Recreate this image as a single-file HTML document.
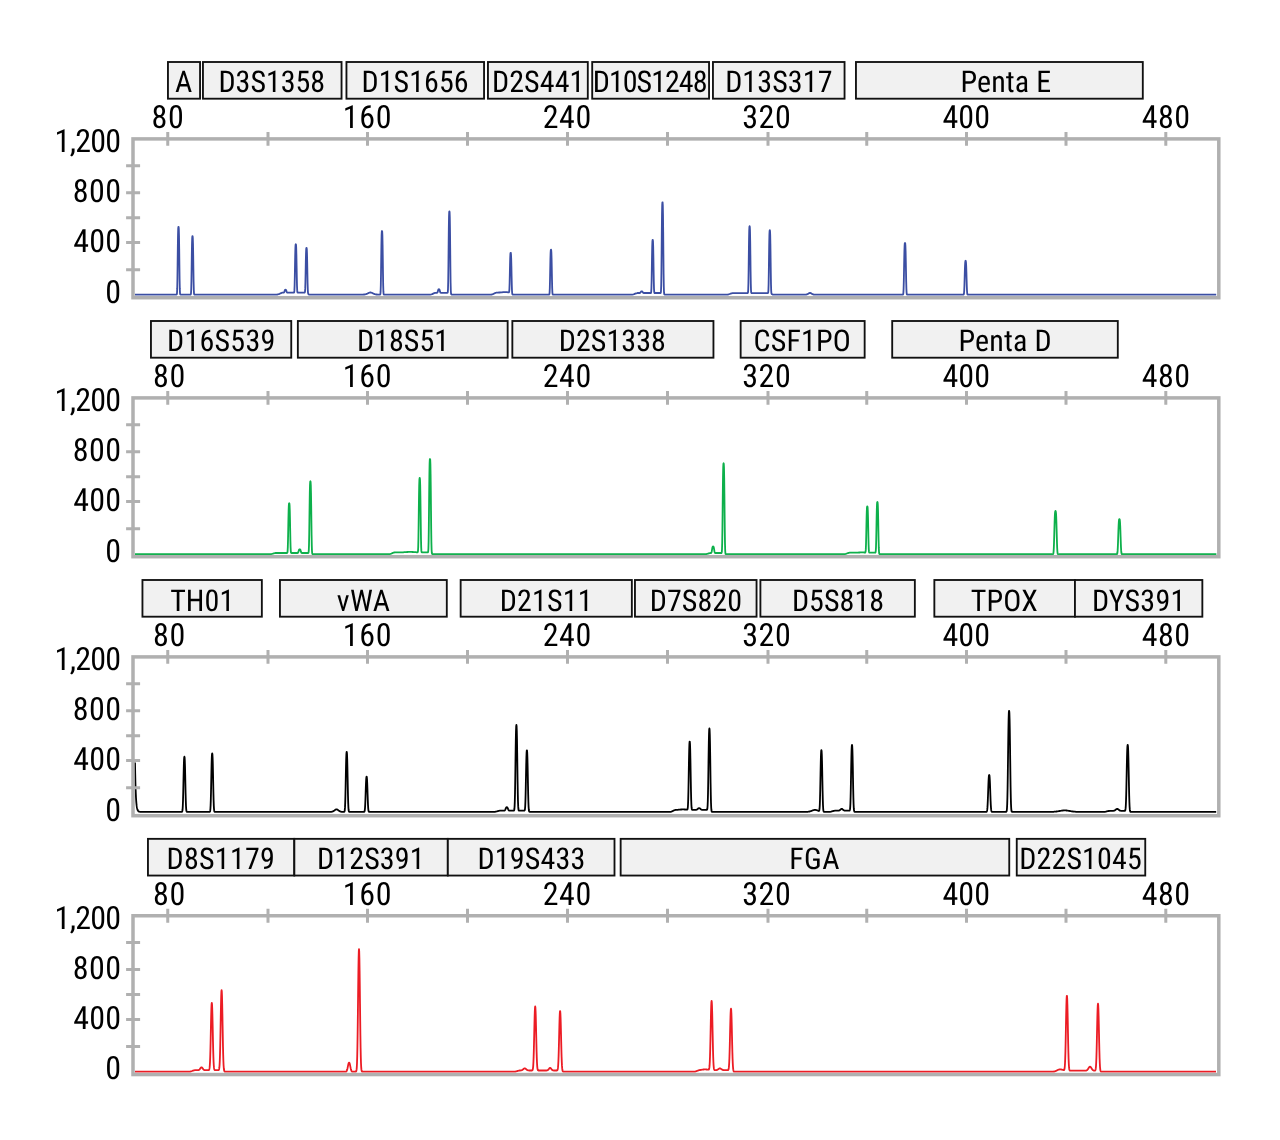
<!DOCTYPE html><html><head><meta charset="utf-8"><title>Electropherogram</title><style>html,body{margin:0;padding:0;background:#fff}svg{display:block;will-change:transform}text{font-family:"Roboto Condensed","Liberation Sans Narrow","Liberation Sans",sans-serif;text-rendering:geometricPrecision}</style></head><body>
<svg width="1280" height="1140" viewBox="0 0 1280 1140">
<rect width="1280" height="1140" fill="#fff"/>
<g><rect x="167.95" y="62.00" width="32.10" height="36.70" fill="#f1f1f1" stroke="#111" stroke-width="1.85"/><rect x="202.95" y="62.00" width="138.60" height="36.70" fill="#f1f1f1" stroke="#111" stroke-width="1.85"/><rect x="346.45" y="62.00" width="137.60" height="36.70" fill="#f1f1f1" stroke="#111" stroke-width="1.85"/><rect x="487.95" y="62.00" width="99.85" height="36.70" fill="#f1f1f1" stroke="#111" stroke-width="1.85"/><rect x="592.20" y="62.00" width="116.85" height="36.70" fill="#f1f1f1" stroke="#111" stroke-width="1.85"/><rect x="712.95" y="62.00" width="131.60" height="36.70" fill="#f1f1f1" stroke="#111" stroke-width="1.85"/><rect x="855.95" y="62.00" width="286.85" height="36.70" fill="#f1f1f1" stroke="#111" stroke-width="1.85"/><text x="183.70" y="91.50" font-size="30" text-anchor="middle" textLength="17.71">A</text><text x="271.80" y="91.50" font-size="30" text-anchor="middle" textLength="106.53">D3S1358</text><text x="415.10" y="91.50" font-size="30" text-anchor="middle" textLength="107.13">D1S1656</text><text x="538.15" y="91.50" font-size="30" text-anchor="middle" textLength="92.42">D2S441</text><text x="650.15" y="91.50" font-size="30" text-anchor="middle" textLength="114.65">D10S1248</text><text x="778.80" y="91.50" font-size="30" text-anchor="middle" textLength="107.33">D13S317</text><text x="1005.80" y="91.50" font-size="30" text-anchor="middle" textLength="90.68">Penta E</text><text x="167.55" y="128.00" font-size="32" text-anchor="middle" textLength="32.29">80</text><text x="367.12" y="128.00" font-size="32" text-anchor="middle" textLength="48.84">160</text><text x="567.00" y="128.00" font-size="32" text-anchor="middle" textLength="48.59">240</text><text x="766.50" y="128.00" font-size="32" text-anchor="middle" textLength="48.59">320</text><text x="966.20" y="128.00" font-size="32" text-anchor="middle" textLength="47.59">400</text><text x="1165.95" y="128.00" font-size="32" text-anchor="middle" textLength="48.29">480</text><text x="87.85" y="151.80" font-size="32" text-anchor="middle" textLength="66.58">1,200</text><text x="96.95" y="202.10" font-size="32" text-anchor="middle" textLength="48.29">800</text><text x="97.15" y="252.20" font-size="32" text-anchor="middle" textLength="47.69">400</text><text x="113.15" y="302.50" font-size="32" text-anchor="middle" textLength="16.10">0</text><path d="M135.0 294.6 L136.0 294.6 L137.0 294.6 L138.0 294.6 L139.0 294.6 L140.0 294.6 L141.0 294.6 L142.0 294.6 L143.0 294.6 L144.0 294.6 L145.0 294.6 L146.0 294.6 L147.0 294.6 L148.0 294.6 L149.0 294.6 L150.0 294.6 L151.0 294.6 L152.0 294.6 L153.0 294.6 L154.0 294.6 L155.0 294.6 L156.0 294.6 L157.0 294.6 L158.0 294.6 L159.0 294.6 L160.0 294.6 L161.0 294.6 L162.0 294.6 L163.0 294.6 L164.0 294.6 L165.0 294.6 L166.0 294.6 L167.0 294.6 L168.0 294.6 L169.0 294.6 L170.0 294.6 L171.0 294.6 L172.0 294.6 L173.0 294.6 L174.0 294.6 L175.0 294.6 L175.2 294.6 L175.4 294.6 L175.6 294.6 L175.8 294.6 L176.0 294.6 L176.2 294.6 L176.4 294.6 L176.6 294.6 L176.8 294.3 L177.0 293.1 L177.2 288.9 L177.4 279.5 L177.6 264.8 L177.8 248.5 L178.0 235.6 L178.2 228.7 L178.4 226.8 L178.6 226.8 L178.8 228.7 L179.0 235.6 L179.2 248.5 L179.4 264.8 L179.6 279.5 L179.8 288.9 L180.0 293.1 L180.2 294.3 L180.4 294.6 L180.6 294.6 L180.8 294.6 L181.0 294.6 L181.2 294.6 L181.4 294.6 L181.6 294.6 L181.8 294.6 L182.0 294.6 L182.2 294.6 L182.4 294.6 L182.6 294.6 L183.6 294.6 L184.6 294.6 L185.6 294.6 L186.6 294.6 L187.6 294.6 L188.6 294.6 L188.8 294.6 L189.0 294.6 L189.2 294.6 L189.4 294.6 L189.6 294.6 L189.8 294.6 L190.0 294.6 L190.2 294.6 L190.4 294.6 L190.6 294.6 L190.8 294.4 L191.0 293.3 L191.2 289.7 L191.4 281.6 L191.6 268.9 L191.8 254.9 L192.0 243.8 L192.2 237.9 L192.4 236.2 L192.6 236.2 L192.8 237.9 L193.0 243.8 L193.2 254.9 L193.4 268.9 L193.6 281.6 L193.8 289.7 L194.0 293.3 L194.2 294.4 L194.4 294.6 L194.6 294.6 L194.8 294.6 L195.0 294.6 L195.2 294.6 L195.4 294.6 L195.6 294.6 L195.8 294.6 L196.0 294.6 L196.2 294.6 L196.4 294.6 L196.6 294.6 L197.6 294.6 L198.6 294.6 L199.6 294.6 L200.6 294.6 L201.6 294.6 L202.6 294.6 L203.6 294.6 L204.6 294.6 L205.6 294.6 L206.6 294.6 L207.6 294.6 L208.6 294.6 L209.6 294.6 L210.6 294.6 L211.6 294.6 L212.6 294.6 L213.6 294.6 L214.6 294.6 L215.6 294.6 L216.6 294.6 L217.6 294.6 L218.6 294.6 L219.6 294.6 L220.6 294.6 L221.6 294.6 L222.6 294.6 L223.6 294.6 L224.6 294.6 L225.6 294.6 L226.6 294.6 L227.6 294.6 L228.6 294.6 L229.6 294.6 L230.6 294.6 L231.6 294.6 L232.6 294.6 L233.6 294.6 L234.6 294.6 L235.6 294.6 L236.6 294.6 L237.6 294.6 L238.6 294.6 L239.6 294.6 L240.6 294.6 L241.6 294.6 L242.6 294.6 L243.6 294.6 L244.6 294.6 L245.6 294.6 L246.6 294.6 L247.6 294.6 L248.6 294.6 L249.6 294.6 L250.6 294.6 L251.6 294.6 L252.6 294.6 L253.6 294.6 L254.6 294.6 L255.6 294.6 L256.6 294.6 L257.6 294.6 L258.6 294.6 L259.6 294.6 L260.6 294.6 L261.6 294.6 L262.6 294.6 L263.6 294.6 L264.6 294.6 L265.6 294.6 L266.6 294.6 L267.6 294.6 L268.6 294.6 L269.6 294.6 L270.6 294.6 L271.6 294.6 L272.6 294.6 L273.6 294.6 L274.6 294.6 L275.6 294.6 L276.6 294.6 L277.6 294.5 L278.6 294.2 L279.6 293.8 L280.6 293.3 L281.6 292.9 L281.8 292.8 L282.0 292.7 L282.2 292.7 L282.4 292.7 L282.6 292.6 L282.8 292.6 L283.0 292.6 L283.2 292.6 L283.4 292.6 L283.6 292.6 L283.8 292.5 L284.0 292.4 L284.2 292.1 L284.4 291.6 L284.6 291.0 L284.8 290.4 L285.0 290.0 L285.2 289.8 L285.4 289.7 L285.6 289.7 L285.8 289.8 L286.0 290.0 L286.2 290.4 L286.4 291.0 L286.6 291.6 L286.8 292.1 L287.0 292.4 L287.2 292.5 L287.4 292.6 L287.6 292.6 L287.8 292.6 L288.0 292.6 L288.2 292.6 L288.4 292.6 L288.6 292.6 L288.8 292.6 L289.0 292.6 L289.2 292.6 L289.4 292.6 L289.6 292.6 L289.8 292.6 L290.0 292.6 L290.2 292.6 L291.2 292.6 L292.2 292.6 L292.4 292.6 L292.6 292.6 L292.8 292.6 L293.0 292.6 L293.2 292.6 L293.4 292.6 L293.6 292.6 L293.8 292.6 L294.0 292.5 L294.2 292.1 L294.4 290.4 L294.6 285.7 L294.8 277.0 L295.0 265.5 L295.2 254.7 L295.4 247.6 L295.6 244.6 L295.8 244.2 L296.0 244.6 L296.2 247.6 L296.4 254.7 L296.6 265.5 L296.8 277.0 L297.0 285.7 L297.2 290.4 L297.4 292.1 L297.6 292.5 L297.8 292.6 L298.0 292.6 L298.2 292.6 L298.4 292.6 L298.6 292.6 L298.8 292.6 L299.0 292.6 L299.2 292.6 L299.4 292.6 L299.6 292.6 L299.8 292.6 L300.0 292.6 L301.0 292.6 L302.0 292.6 L303.0 292.6 L303.2 292.6 L303.4 292.6 L303.6 292.6 L303.8 292.6 L304.0 292.6 L304.2 292.6 L304.4 292.6 L304.6 292.6 L304.8 292.4 L305.0 291.6 L305.2 288.9 L305.4 282.6 L305.6 272.9 L305.8 262.1 L306.0 253.6 L306.2 249.0 L306.4 247.8 L306.6 247.8 L306.8 249.1 L307.0 253.8 L307.2 262.4 L307.4 273.3 L307.6 283.2 L307.8 289.7 L308.0 292.6 L308.2 293.6 L308.4 294.0 L308.6 294.2 L308.8 294.3 L309.0 294.5 L309.2 294.5 L309.4 294.6 L309.6 294.6 L309.8 294.6 L310.0 294.6 L310.2 294.6 L310.4 294.6 L310.6 294.6 L311.6 294.6 L312.6 294.6 L313.6 294.6 L314.6 294.6 L315.6 294.6 L316.6 294.6 L317.6 294.6 L318.6 294.6 L319.6 294.6 L320.6 294.6 L321.6 294.6 L322.6 294.6 L323.6 294.6 L324.6 294.6 L325.6 294.6 L326.6 294.6 L327.6 294.6 L328.6 294.6 L329.6 294.6 L330.6 294.6 L331.6 294.6 L332.6 294.6 L333.6 294.6 L334.6 294.6 L335.6 294.6 L336.6 294.6 L337.6 294.6 L338.6 294.6 L339.6 294.6 L340.6 294.6 L341.6 294.6 L342.6 294.6 L343.6 294.6 L344.6 294.6 L345.6 294.6 L346.6 294.6 L347.6 294.6 L348.6 294.6 L349.6 294.6 L350.6 294.6 L351.6 294.6 L352.6 294.6 L353.6 294.6 L354.6 294.6 L355.6 294.6 L356.6 294.6 L357.6 294.6 L358.6 294.6 L358.8 294.6 L359.0 294.6 L359.2 294.6 L359.4 294.6 L359.6 294.6 L359.8 294.6 L360.0 294.6 L360.2 294.6 L360.4 294.6 L360.6 294.6 L360.8 294.6 L361.0 294.6 L361.2 294.6 L361.4 294.6 L361.6 294.6 L361.8 294.6 L362.0 294.6 L362.2 294.6 L362.4 294.6 L362.6 294.6 L362.8 294.6 L363.0 294.6 L363.2 294.6 L363.4 294.6 L363.6 294.5 L363.8 294.5 L364.0 294.5 L364.2 294.5 L364.4 294.5 L364.6 294.5 L364.8 294.4 L365.0 294.4 L365.2 294.4 L365.4 294.3 L365.6 294.3 L365.8 294.2 L366.0 294.2 L366.2 294.1 L366.4 294.0 L366.6 293.9 L366.8 293.9 L367.0 293.8 L367.2 293.7 L367.4 293.6 L367.6 293.5 L367.8 293.4 L368.0 293.3 L368.2 293.2 L368.4 293.1 L368.6 293.0 L368.8 292.9 L369.0 292.8 L369.2 292.7 L369.4 292.7 L369.6 292.6 L369.8 292.6 L370.0 292.5 L370.2 292.5 L370.4 292.5 L370.6 292.5 L370.8 292.5 L371.0 292.6 L371.2 292.6 L371.4 292.7 L371.6 292.7 L371.8 292.8 L372.0 292.9 L372.2 293.0 L372.4 293.1 L372.6 293.2 L372.8 293.3 L373.0 293.4 L373.2 293.5 L373.4 293.6 L373.6 293.7 L373.8 293.8 L374.0 293.9 L374.2 293.9 L374.4 294.0 L374.6 294.1 L374.8 294.2 L375.0 294.2 L375.2 294.3 L375.4 294.3 L375.6 294.4 L375.8 294.4 L376.0 294.4 L376.2 294.5 L376.4 294.5 L376.6 294.5 L376.8 294.5 L377.0 294.5 L377.2 294.5 L377.4 294.6 L377.6 294.6 L377.8 294.6 L378.0 294.6 L378.2 294.6 L378.4 294.6 L378.6 294.6 L378.8 294.6 L379.0 294.6 L379.2 294.6 L379.4 294.6 L379.6 294.6 L379.8 294.6 L380.0 294.6 L380.2 294.5 L380.4 294.0 L380.6 291.7 L380.8 285.6 L381.0 274.1 L381.2 258.9 L381.4 244.8 L381.6 235.4 L381.8 231.6 L382.0 231.0 L382.2 231.6 L382.4 235.4 L382.6 244.8 L382.8 258.9 L383.0 274.1 L383.2 285.6 L383.4 291.7 L383.6 294.0 L383.8 294.5 L384.0 294.6 L384.2 294.6 L384.4 294.6 L384.6 294.6 L384.8 294.6 L385.0 294.6 L385.2 294.6 L385.4 294.6 L385.6 294.6 L385.8 294.6 L386.0 294.6 L386.2 294.6 L387.2 294.6 L388.2 294.6 L389.2 294.6 L390.2 294.6 L391.2 294.6 L392.2 294.6 L393.2 294.6 L394.2 294.6 L395.2 294.6 L396.2 294.6 L397.2 294.6 L398.2 294.6 L399.2 294.6 L400.2 294.6 L401.2 294.6 L402.2 294.6 L403.2 294.6 L404.2 294.6 L405.2 294.6 L406.2 294.6 L407.2 294.6 L408.2 294.6 L409.2 294.6 L410.2 294.6 L411.2 294.6 L412.2 294.6 L413.2 294.6 L414.2 294.6 L415.2 294.6 L416.2 294.6 L417.2 294.6 L418.2 294.6 L419.2 294.6 L420.2 294.6 L421.2 294.6 L422.2 294.6 L423.2 294.6 L424.2 294.6 L425.2 294.6 L426.2 294.6 L427.2 294.6 L428.2 294.6 L429.2 294.6 L430.2 294.6 L431.2 294.4 L432.2 294.1 L433.2 293.6 L434.2 293.2 L435.2 292.9 L435.4 292.9 L435.6 292.8 L435.8 292.8 L436.0 292.8 L436.2 292.8 L436.4 292.8 L436.6 292.8 L436.8 292.8 L437.0 292.8 L437.2 292.7 L437.4 292.6 L437.6 292.2 L437.8 291.5 L438.0 290.8 L438.2 290.1 L438.4 289.5 L438.6 289.3 L438.8 289.2 L439.0 289.2 L439.2 289.3 L439.4 289.5 L439.6 290.1 L439.8 290.8 L440.0 291.5 L440.2 292.2 L440.4 292.6 L440.6 292.7 L440.8 292.8 L441.0 292.8 L441.2 292.8 L441.4 292.8 L441.6 292.8 L441.8 292.8 L442.0 292.8 L442.2 292.8 L442.4 292.8 L442.6 292.8 L442.8 292.8 L443.0 292.8 L443.2 292.8 L443.4 292.8 L443.6 292.8 L444.6 292.8 L445.6 292.8 L445.8 292.8 L446.0 292.8 L446.2 292.8 L446.4 292.8 L446.6 292.8 L446.8 292.8 L447.0 292.8 L447.2 292.8 L447.4 292.8 L447.6 292.7 L447.8 292.0 L448.0 289.1 L448.2 281.2 L448.4 266.5 L448.6 247.1 L448.8 228.9 L449.0 216.9 L449.2 212.0 L449.4 211.3 L449.6 212.1 L449.8 217.2 L450.0 229.4 L450.2 247.7 L450.4 267.3 L450.6 282.2 L450.8 290.3 L451.0 293.3 L451.2 294.2 L451.4 294.4 L451.6 294.5 L451.8 294.6 L452.0 294.6 L452.2 294.6 L452.4 294.6 L452.6 294.6 L452.8 294.6 L453.0 294.6 L453.2 294.6 L453.4 294.6 L453.6 294.6 L454.6 294.6 L455.6 294.6 L456.6 294.6 L457.6 294.6 L458.6 294.6 L459.6 294.6 L460.6 294.6 L461.6 294.6 L462.6 294.6 L463.6 294.6 L464.6 294.6 L465.6 294.6 L466.6 294.6 L467.6 294.6 L468.6 294.6 L469.6 294.6 L470.6 294.6 L471.6 294.6 L472.6 294.6 L473.6 294.6 L474.6 294.6 L475.6 294.6 L476.6 294.6 L477.6 294.6 L478.6 294.6 L479.6 294.6 L480.6 294.6 L481.6 294.6 L482.6 294.6 L483.6 294.6 L484.6 294.6 L485.6 294.6 L486.6 294.6 L487.6 294.6 L488.6 294.6 L489.6 294.6 L490.6 294.6 L490.8 294.6 L491.0 294.6 L491.2 294.6 L491.4 294.6 L491.6 294.5 L491.8 294.5 L492.0 294.5 L492.2 294.4 L492.4 294.3 L492.6 294.2 L492.8 294.2 L493.0 294.1 L493.2 294.0 L493.4 293.9 L493.6 293.8 L493.8 293.7 L494.0 293.6 L494.2 293.5 L494.4 293.4 L494.6 293.3 L494.8 293.2 L495.0 293.1 L495.2 293.0 L495.4 292.9 L495.6 292.9 L495.8 292.8 L496.0 292.7 L496.2 292.7 L496.4 292.6 L496.6 292.6 L496.8 292.6 L497.0 292.6 L497.2 292.6 L497.4 292.6 L497.6 292.6 L497.8 292.6 L498.0 292.6 L498.2 292.6 L498.4 292.6 L498.6 292.5 L498.8 292.5 L499.0 292.5 L499.2 292.5 L499.4 292.5 L499.6 292.5 L499.8 292.5 L500.0 292.5 L500.2 292.5 L500.4 292.4 L500.6 292.4 L500.8 292.4 L501.0 292.4 L501.2 292.4 L501.4 292.4 L501.6 292.3 L501.8 292.3 L502.0 292.3 L502.2 292.3 L502.4 292.3 L502.6 292.2 L502.8 292.2 L503.0 292.2 L503.2 292.2 L503.4 292.2 L503.6 292.2 L503.8 292.1 L504.0 292.1 L504.2 292.1 L504.4 292.1 L504.6 292.1 L504.8 292.1 L505.0 292.1 L505.2 292.1 L505.4 292.1 L505.6 292.1 L505.8 292.1 L506.0 292.1 L506.2 292.1 L506.4 292.2 L506.6 292.2 L506.8 292.2 L507.0 292.2 L507.2 292.2 L507.4 292.2 L507.6 292.3 L507.8 292.3 L508.0 292.3 L508.2 292.3 L508.4 292.3 L508.6 292.4 L508.8 292.4 L509.0 292.2 L509.2 291.5 L509.4 289.1 L509.6 283.6 L509.8 274.9 L510.0 265.3 L510.2 257.8 L510.4 253.8 L510.6 252.8 L510.8 252.9 L511.0 254.3 L511.2 258.5 L511.4 266.3 L511.6 276.1 L511.8 285.0 L512.0 290.7 L512.2 293.3 L512.4 294.2 L512.6 294.5 L512.8 294.6 L513.0 294.6 L513.2 294.6 L513.4 294.6 L513.6 294.6 L513.8 294.6 L514.0 294.6 L514.2 294.6 L514.4 294.6 L514.6 294.6 L514.8 294.6 L515.0 294.6 L515.2 294.6 L515.4 294.6 L515.6 294.6 L515.8 294.6 L516.0 294.6 L516.2 294.6 L516.4 294.6 L516.6 294.6 L516.8 294.6 L517.0 294.6 L517.2 294.6 L517.4 294.6 L517.6 294.6 L517.8 294.6 L518.0 294.6 L518.2 294.6 L518.4 294.6 L518.6 294.6 L518.8 294.6 L519.0 294.6 L519.2 294.6 L519.4 294.6 L519.6 294.6 L519.8 294.6 L520.0 294.6 L520.2 294.6 L521.2 294.6 L522.2 294.6 L523.2 294.6 L524.2 294.6 L525.2 294.6 L526.2 294.6 L527.2 294.6 L528.2 294.6 L529.2 294.6 L530.2 294.6 L531.2 294.6 L532.2 294.6 L533.2 294.6 L534.2 294.6 L535.2 294.6 L536.2 294.6 L537.2 294.6 L538.2 294.6 L539.2 294.6 L540.2 294.6 L541.2 294.6 L542.2 294.6 L543.2 294.6 L544.2 294.6 L545.2 294.6 L546.2 294.6 L547.2 294.6 L547.4 294.6 L547.6 294.6 L547.8 294.6 L548.0 294.6 L548.2 294.6 L548.4 294.6 L548.6 294.6 L548.8 294.6 L549.0 294.6 L549.2 294.5 L549.4 294.2 L549.6 292.6 L549.8 288.2 L550.0 280.1 L550.2 269.4 L550.4 259.3 L550.6 252.7 L550.8 250.0 L551.0 249.6 L551.2 250.0 L551.4 252.7 L551.6 259.3 L551.8 269.4 L552.0 280.1 L552.2 288.2 L552.4 292.6 L552.6 294.2 L552.8 294.5 L553.0 294.6 L553.2 294.6 L553.4 294.6 L553.6 294.6 L553.8 294.6 L554.0 294.6 L554.2 294.6 L554.4 294.6 L554.6 294.6 L554.8 294.6 L555.0 294.6 L555.2 294.6 L556.2 294.6 L557.2 294.6 L558.2 294.6 L559.2 294.6 L560.2 294.6 L561.2 294.6 L562.2 294.6 L563.2 294.6 L564.2 294.6 L565.2 294.6 L566.2 294.6 L567.2 294.6 L568.2 294.6 L569.2 294.6 L570.2 294.6 L571.2 294.6 L572.2 294.6 L573.2 294.6 L574.2 294.6 L575.2 294.6 L576.2 294.6 L577.2 294.6 L578.2 294.6 L579.2 294.6 L580.2 294.6 L581.2 294.6 L582.2 294.6 L583.2 294.6 L584.2 294.6 L585.2 294.6 L586.2 294.6 L587.2 294.6 L588.2 294.6 L589.2 294.6 L590.2 294.6 L591.2 294.6 L592.2 294.6 L593.2 294.6 L594.2 294.6 L595.2 294.6 L596.2 294.6 L597.2 294.6 L598.2 294.6 L599.2 294.6 L600.2 294.6 L601.2 294.6 L602.2 294.6 L603.2 294.6 L604.2 294.6 L605.2 294.6 L606.2 294.6 L607.2 294.6 L608.2 294.6 L609.2 294.6 L610.2 294.6 L611.2 294.6 L612.2 294.6 L613.2 294.6 L614.2 294.6 L615.2 294.6 L616.2 294.6 L617.2 294.6 L618.2 294.6 L619.2 294.6 L620.2 294.6 L621.2 294.6 L622.2 294.6 L623.2 294.6 L624.2 294.6 L625.2 294.6 L626.2 294.6 L627.2 294.6 L628.2 294.6 L629.2 294.6 L630.2 294.6 L631.2 294.6 L632.2 294.6 L633.2 294.4 L634.2 294.1 L635.2 293.7 L636.2 293.3 L637.2 293.1 L637.4 293.0 L637.6 293.0 L637.8 293.0 L638.0 293.0 L638.2 293.0 L638.4 293.0 L638.6 293.0 L638.8 293.0 L639.0 293.0 L639.2 293.0 L639.4 293.0 L639.6 293.0 L639.8 293.0 L640.0 292.9 L640.2 292.8 L640.4 292.6 L640.6 292.3 L640.8 292.0 L641.0 291.7 L641.2 291.5 L641.4 291.4 L641.6 291.4 L641.8 291.4 L642.0 291.4 L642.2 291.5 L642.4 291.7 L642.6 292.0 L642.8 292.3 L643.0 292.6 L643.2 292.8 L643.4 292.9 L643.6 293.0 L643.8 293.0 L644.0 293.0 L644.2 293.0 L644.4 293.0 L644.6 293.0 L644.8 293.0 L645.0 293.0 L645.2 293.0 L645.4 293.0 L645.6 293.0 L645.8 293.0 L646.0 293.0 L646.2 293.0 L646.4 293.0 L646.6 293.0 L646.8 293.0 L647.8 293.0 L648.8 293.0 L649.0 293.0 L649.2 293.0 L649.4 293.0 L649.6 293.0 L649.8 293.0 L650.0 293.0 L650.2 293.0 L650.4 293.0 L650.6 293.0 L650.8 293.0 L651.0 292.8 L651.2 291.8 L651.4 288.6 L651.6 281.2 L651.8 269.7 L652.0 256.9 L652.2 246.8 L652.4 241.4 L652.6 239.9 L652.8 239.9 L653.0 241.4 L653.2 246.8 L653.4 256.9 L653.6 269.7 L653.8 281.2 L654.0 288.6 L654.2 291.8 L654.4 292.8 L654.6 293.0 L654.8 293.0 L655.0 293.0 L655.2 293.0 L655.4 293.0 L655.6 293.0 L655.8 293.0 L656.0 293.0 L656.2 293.0 L656.4 293.0 L656.6 293.0 L656.8 293.0 L657.8 293.0 L658.8 293.0 L659.0 293.0 L659.2 293.0 L659.4 293.0 L659.6 293.0 L659.8 293.0 L660.0 293.0 L660.2 293.0 L660.4 293.0 L660.6 293.0 L660.8 292.6 L661.0 291.0 L661.2 285.4 L661.4 272.8 L661.6 253.1 L661.8 231.3 L662.0 214.1 L662.2 204.8 L662.4 202.3 L662.6 202.4 L662.8 205.1 L663.0 214.5 L663.2 231.9 L663.4 253.8 L663.6 273.7 L663.8 286.4 L664.0 292.2 L664.2 294.0 L664.4 294.4 L664.6 294.5 L664.8 294.6 L665.0 294.6 L665.2 294.6 L665.4 294.6 L665.6 294.6 L665.8 294.6 L666.0 294.6 L666.2 294.6 L666.4 294.6 L666.6 294.6 L667.6 294.6 L668.6 294.6 L669.6 294.6 L670.6 294.6 L671.6 294.6 L672.6 294.6 L673.6 294.6 L674.6 294.6 L675.6 294.6 L676.6 294.6 L677.6 294.6 L678.6 294.6 L679.6 294.6 L680.6 294.6 L681.6 294.6 L682.6 294.6 L683.6 294.6 L684.6 294.6 L685.6 294.6 L686.6 294.6 L687.6 294.6 L688.6 294.6 L689.6 294.6 L690.6 294.6 L691.6 294.6 L692.6 294.6 L693.6 294.6 L694.6 294.6 L695.6 294.6 L696.6 294.6 L697.6 294.6 L698.6 294.6 L699.6 294.6 L700.6 294.6 L701.6 294.6 L702.6 294.6 L703.6 294.6 L704.6 294.6 L705.6 294.6 L706.6 294.6 L707.6 294.6 L708.6 294.6 L709.6 294.6 L710.6 294.6 L711.6 294.6 L712.6 294.6 L713.6 294.6 L714.6 294.6 L715.6 294.6 L716.6 294.6 L717.6 294.6 L718.6 294.6 L719.6 294.6 L720.6 294.6 L721.6 294.6 L722.6 294.6 L723.6 294.6 L724.6 294.6 L725.6 294.6 L726.6 294.6 L727.6 294.6 L728.6 294.3 L729.6 294.0 L730.6 293.6 L731.6 293.3 L732.6 293.1 L733.6 293.1 L734.6 293.1 L735.6 293.1 L736.6 293.1 L737.6 293.1 L738.6 293.1 L739.6 293.1 L740.6 293.1 L741.6 293.1 L742.6 293.1 L743.6 293.1 L744.6 293.1 L745.6 293.1 L745.8 293.1 L746.0 293.1 L746.2 293.1 L746.4 293.1 L746.6 293.1 L746.8 293.1 L747.0 293.1 L747.2 293.1 L747.4 293.1 L747.6 293.1 L747.8 293.0 L748.0 292.4 L748.2 290.1 L748.4 283.6 L748.6 271.5 L748.8 255.6 L749.0 240.7 L749.2 230.9 L749.4 226.8 L749.6 226.2 L749.8 226.8 L750.0 230.9 L750.2 240.7 L750.4 255.6 L750.6 271.5 L750.8 283.6 L751.0 290.1 L751.2 292.4 L751.4 293.0 L751.6 293.1 L751.8 293.1 L752.0 293.1 L752.2 293.1 L752.4 293.1 L752.6 293.1 L752.8 293.1 L753.0 293.1 L753.2 293.1 L753.4 293.1 L753.6 293.1 L754.6 293.1 L755.6 293.1 L756.6 293.1 L757.6 293.1 L758.6 293.1 L759.6 293.1 L760.6 293.1 L761.6 293.1 L762.6 293.1 L763.6 293.1 L764.6 293.1 L765.6 293.1 L766.6 293.1 L766.8 293.1 L767.0 293.1 L767.2 293.1 L767.4 293.1 L767.6 293.1 L767.8 293.1 L768.0 293.0 L768.2 292.5 L768.4 290.3 L768.6 284.2 L768.8 272.8 L769.0 257.8 L769.2 243.8 L769.4 234.6 L769.6 230.8 L769.8 230.2 L770.0 230.8 L770.2 234.6 L770.4 243.9 L770.6 258.0 L770.8 273.1 L771.0 284.6 L771.2 290.8 L771.4 293.2 L771.6 293.8 L771.8 294.1 L772.0 294.2 L772.2 294.3 L772.4 294.4 L772.6 294.5 L772.8 294.6 L773.0 294.6 L773.2 294.6 L773.4 294.6 L773.6 294.6 L773.8 294.6 L774.8 294.6 L775.8 294.6 L776.8 294.6 L777.8 294.6 L778.8 294.6 L779.8 294.6 L780.8 294.6 L781.8 294.6 L782.8 294.6 L783.8 294.6 L784.8 294.6 L785.8 294.6 L786.8 294.6 L787.8 294.6 L788.8 294.6 L789.8 294.6 L790.8 294.6 L791.8 294.6 L792.8 294.6 L793.8 294.6 L794.8 294.6 L795.8 294.6 L796.8 294.6 L797.8 294.6 L798.8 294.6 L799.8 294.6 L800.8 294.6 L801.8 294.6 L802.8 294.6 L803.0 294.6 L803.2 294.6 L803.4 294.6 L803.6 294.6 L803.8 294.6 L804.0 294.6 L804.2 294.6 L804.4 294.6 L804.6 294.6 L804.8 294.6 L805.0 294.6 L805.2 294.6 L805.4 294.6 L805.6 294.6 L805.8 294.6 L806.0 294.6 L806.2 294.5 L806.4 294.5 L806.6 294.5 L806.8 294.4 L807.0 294.4 L807.2 294.3 L807.4 294.2 L807.6 294.1 L807.8 294.0 L808.0 293.9 L808.2 293.8 L808.4 293.6 L808.6 293.5 L808.8 293.4 L809.0 293.2 L809.2 293.1 L809.4 293.0 L809.6 293.0 L809.8 292.9 L810.0 292.9 L810.2 292.9 L810.4 293.0 L810.6 293.0 L810.8 293.1 L811.0 293.2 L811.2 293.4 L811.4 293.5 L811.6 293.6 L811.8 293.8 L812.0 293.9 L812.2 294.0 L812.4 294.1 L812.6 294.2 L812.8 294.3 L813.0 294.4 L813.2 294.4 L813.4 294.5 L813.6 294.5 L813.8 294.5 L814.0 294.6 L814.2 294.6 L814.4 294.6 L814.6 294.6 L814.8 294.6 L815.0 294.6 L815.2 294.6 L815.4 294.6 L815.6 294.6 L815.8 294.6 L816.0 294.6 L816.2 294.6 L816.4 294.6 L816.6 294.6 L816.8 294.6 L817.0 294.6 L817.2 294.6 L817.4 294.6 L817.6 294.6 L818.6 294.6 L819.6 294.6 L820.6 294.6 L821.6 294.6 L822.6 294.6 L823.6 294.6 L824.6 294.6 L825.6 294.6 L826.6 294.6 L827.6 294.6 L828.6 294.6 L829.6 294.6 L830.6 294.6 L831.6 294.6 L832.6 294.6 L833.6 294.6 L834.6 294.6 L835.6 294.6 L836.6 294.6 L837.6 294.6 L838.6 294.6 L839.6 294.6 L840.6 294.6 L841.6 294.6 L842.6 294.6 L843.6 294.6 L844.6 294.6 L845.6 294.6 L846.6 294.6 L847.6 294.6 L848.6 294.6 L849.6 294.6 L850.6 294.6 L851.6 294.6 L852.6 294.6 L853.6 294.6 L854.6 294.6 L855.6 294.6 L856.6 294.6 L857.6 294.6 L858.6 294.6 L859.6 294.6 L860.6 294.6 L861.6 294.6 L862.6 294.6 L863.6 294.6 L864.6 294.6 L865.6 294.6 L866.6 294.6 L867.6 294.6 L868.6 294.6 L869.6 294.6 L870.6 294.6 L871.6 294.6 L872.6 294.6 L873.6 294.6 L874.6 294.6 L875.6 294.6 L876.6 294.6 L877.6 294.6 L878.6 294.6 L879.6 294.6 L880.6 294.6 L881.6 294.6 L882.6 294.6 L883.6 294.6 L884.6 294.6 L885.6 294.6 L886.6 294.6 L887.6 294.6 L888.6 294.6 L889.6 294.6 L890.6 294.6 L891.6 294.6 L892.6 294.6 L893.6 294.6 L894.6 294.6 L895.6 294.6 L896.6 294.6 L897.6 294.6 L898.6 294.6 L899.6 294.6 L900.6 294.6 L900.8 294.6 L901.0 294.6 L901.2 294.6 L901.4 294.6 L901.6 294.6 L901.8 294.6 L902.0 294.6 L902.2 294.6 L902.4 294.6 L902.6 294.6 L902.8 294.6 L903.0 294.5 L903.2 294.1 L903.4 292.6 L903.6 288.7 L903.8 281.5 L904.0 271.2 L904.2 260.2 L904.4 251.0 L904.6 245.5 L904.8 243.2 L905.0 242.9 L905.2 243.2 L905.4 245.5 L905.6 251.0 L905.8 260.2 L906.0 271.2 L906.2 281.5 L906.4 288.7 L906.6 292.6 L906.8 294.1 L907.0 294.5 L907.2 294.6 L907.4 294.6 L907.6 294.6 L907.8 294.6 L908.0 294.6 L908.2 294.6 L908.4 294.6 L908.6 294.6 L908.8 294.6 L909.0 294.6 L909.2 294.6 L909.4 294.6 L909.6 294.6 L910.6 294.6 L911.6 294.6 L912.6 294.6 L913.6 294.6 L914.6 294.6 L915.6 294.6 L916.6 294.6 L917.6 294.6 L918.6 294.6 L919.6 294.6 L920.6 294.6 L921.6 294.6 L922.6 294.6 L923.6 294.6 L924.6 294.6 L925.6 294.6 L926.6 294.6 L927.6 294.6 L928.6 294.6 L929.6 294.6 L930.6 294.6 L931.6 294.6 L932.6 294.6 L933.6 294.6 L934.6 294.6 L935.6 294.6 L936.6 294.6 L937.6 294.6 L938.6 294.6 L939.6 294.6 L940.6 294.6 L941.6 294.6 L942.6 294.6 L943.6 294.6 L944.6 294.6 L945.6 294.6 L946.6 294.6 L947.6 294.6 L948.6 294.6 L949.6 294.6 L950.6 294.6 L951.6 294.6 L952.6 294.6 L953.6 294.6 L954.6 294.6 L955.6 294.6 L956.6 294.6 L957.6 294.6 L958.6 294.6 L959.6 294.6 L960.6 294.6 L961.6 294.6 L961.8 294.6 L962.0 294.6 L962.2 294.6 L962.4 294.6 L962.6 294.6 L962.8 294.6 L963.0 294.6 L963.2 294.6 L963.4 294.6 L963.6 294.5 L963.8 294.3 L964.0 293.3 L964.2 290.8 L964.4 286.0 L964.6 279.3 L964.8 272.1 L965.0 266.1 L965.2 262.5 L965.4 261.0 L965.6 260.8 L965.8 261.0 L966.0 262.5 L966.2 266.1 L966.4 272.1 L966.6 279.3 L966.8 286.0 L967.0 290.8 L967.2 293.3 L967.4 294.3 L967.6 294.5 L967.8 294.6 L968.0 294.6 L968.2 294.6 L968.4 294.6 L968.6 294.6 L968.8 294.6 L969.0 294.6 L969.2 294.6 L969.4 294.6 L969.6 294.6 L969.8 294.6 L970.0 294.6 L970.2 294.6 L971.2 294.6 L972.2 294.6 L973.2 294.6 L974.2 294.6 L975.2 294.6 L976.2 294.6 L977.2 294.6 L978.2 294.6 L979.2 294.6 L980.2 294.6 L981.2 294.6 L982.2 294.6 L983.2 294.6 L984.2 294.6 L985.2 294.6 L986.2 294.6 L987.2 294.6 L988.2 294.6 L989.2 294.6 L990.2 294.6 L991.2 294.6 L992.2 294.6 L993.2 294.6 L994.2 294.6 L995.2 294.6 L996.2 294.6 L997.2 294.6 L998.2 294.6 L999.2 294.6 L1000.2 294.6 L1001.2 294.6 L1002.2 294.6 L1003.2 294.6 L1004.2 294.6 L1005.2 294.6 L1006.2 294.6 L1007.2 294.6 L1008.2 294.6 L1009.2 294.6 L1010.2 294.6 L1011.2 294.6 L1012.2 294.6 L1013.2 294.6 L1014.2 294.6 L1015.2 294.6 L1016.2 294.6 L1017.2 294.6 L1018.2 294.6 L1019.2 294.6 L1020.2 294.6 L1021.2 294.6 L1022.2 294.6 L1023.2 294.6 L1024.2 294.6 L1025.2 294.6 L1026.2 294.6 L1027.2 294.6 L1028.2 294.6 L1029.2 294.6 L1030.2 294.6 L1031.2 294.6 L1032.2 294.6 L1033.2 294.6 L1034.2 294.6 L1035.2 294.6 L1036.2 294.6 L1037.2 294.6 L1038.2 294.6 L1039.2 294.6 L1040.2 294.6 L1041.2 294.6 L1042.2 294.6 L1043.2 294.6 L1044.2 294.6 L1045.2 294.6 L1046.2 294.6 L1047.2 294.6 L1048.2 294.6 L1049.2 294.6 L1050.2 294.6 L1051.2 294.6 L1052.2 294.6 L1053.2 294.6 L1054.2 294.6 L1055.2 294.6 L1056.2 294.6 L1057.2 294.6 L1058.2 294.6 L1059.2 294.6 L1060.2 294.6 L1061.2 294.6 L1062.2 294.6 L1063.2 294.6 L1064.2 294.6 L1065.2 294.6 L1066.2 294.6 L1067.2 294.6 L1068.2 294.6 L1069.2 294.6 L1070.2 294.6 L1071.2 294.6 L1072.2 294.6 L1073.2 294.6 L1074.2 294.6 L1075.2 294.6 L1076.2 294.6 L1077.2 294.6 L1078.2 294.6 L1079.2 294.6 L1080.2 294.6 L1081.2 294.6 L1082.2 294.6 L1083.2 294.6 L1084.2 294.6 L1085.2 294.6 L1086.2 294.6 L1087.2 294.6 L1088.2 294.6 L1089.2 294.6 L1090.2 294.6 L1091.2 294.6 L1092.2 294.6 L1093.2 294.6 L1094.2 294.6 L1095.2 294.6 L1096.2 294.6 L1097.2 294.6 L1098.2 294.6 L1099.2 294.6 L1100.2 294.6 L1101.2 294.6 L1102.2 294.6 L1103.2 294.6 L1104.2 294.6 L1105.2 294.6 L1106.2 294.6 L1107.2 294.6 L1108.2 294.6 L1109.2 294.6 L1110.2 294.6 L1111.2 294.6 L1112.2 294.6 L1113.2 294.6 L1114.2 294.6 L1115.2 294.6 L1116.2 294.6 L1117.2 294.6 L1118.2 294.6 L1119.2 294.6 L1120.2 294.6 L1121.2 294.6 L1122.2 294.6 L1123.2 294.6 L1124.2 294.6 L1125.2 294.6 L1126.2 294.6 L1127.2 294.6 L1128.2 294.6 L1129.2 294.6 L1130.2 294.6 L1131.2 294.6 L1132.2 294.6 L1133.2 294.6 L1134.2 294.6 L1135.2 294.6 L1136.2 294.6 L1137.2 294.6 L1138.2 294.6 L1139.2 294.6 L1140.2 294.6 L1141.2 294.6 L1142.2 294.6 L1143.2 294.6 L1144.2 294.6 L1145.2 294.6 L1146.2 294.6 L1147.2 294.6 L1148.2 294.6 L1149.2 294.6 L1150.2 294.6 L1151.2 294.6 L1152.2 294.6 L1153.2 294.6 L1154.2 294.6 L1155.2 294.6 L1156.2 294.6 L1157.2 294.6 L1158.2 294.6 L1159.2 294.6 L1160.2 294.6 L1161.2 294.6 L1162.2 294.6 L1163.2 294.6 L1164.2 294.6 L1165.2 294.6 L1166.2 294.6 L1167.2 294.6 L1168.2 294.6 L1169.2 294.6 L1170.2 294.6 L1171.2 294.6 L1172.2 294.6 L1173.2 294.6 L1174.2 294.6 L1175.2 294.6 L1176.2 294.6 L1177.2 294.6 L1178.2 294.6 L1179.2 294.6 L1180.2 294.6 L1181.2 294.6 L1182.2 294.6 L1183.2 294.6 L1184.2 294.6 L1185.2 294.6 L1186.2 294.6 L1187.2 294.6 L1188.2 294.6 L1189.2 294.6 L1190.2 294.6 L1191.2 294.6 L1192.2 294.6 L1193.2 294.6 L1194.2 294.6 L1195.2 294.6 L1196.2 294.6 L1197.2 294.6 L1198.2 294.6 L1199.2 294.6 L1200.2 294.6 L1201.2 294.6 L1202.2 294.6 L1203.2 294.6 L1204.2 294.6 L1205.2 294.6 L1206.2 294.6 L1207.2 294.6 L1208.2 294.6 L1209.2 294.6 L1210.2 294.6 L1211.2 294.6 L1212.2 294.6 L1213.2 294.6 L1214.2 294.6 L1215.2 294.6 L1216.2 294.6" stroke="#3b4ea3" stroke-width="1.8" fill="none" stroke-linejoin="round"/><rect x="133.00" y="138.90" width="1085.80" height="158.80" fill="none" stroke="#b0b0b0" stroke-width="3.5"/><path d="M167.75 132.00V145.80M268.00 132.00V145.80M367.50 132.00V145.80M467.50 132.00V145.80M567.50 132.00V145.80M667.50 132.00V145.80M768.00 132.00V145.80M866.75 132.00V145.80M966.50 132.00V145.80M1066.00 132.00V145.80M1165.80 132.00V145.80M126.1 165.66H140.1M126.1 192.70H140.1M126.1 217.70H140.1M126.1 242.60H140.1M126.1 269.70H140.1" stroke="#b0b0b0" stroke-width="3" fill="none"/></g>
<g><rect x="150.95" y="321.00" width="140.30" height="36.70" fill="#f1f1f1" stroke="#111" stroke-width="1.85"/><rect x="297.85" y="321.00" width="209.80" height="36.70" fill="#f1f1f1" stroke="#111" stroke-width="1.85"/><rect x="512.35" y="321.00" width="201.10" height="36.70" fill="#f1f1f1" stroke="#111" stroke-width="1.85"/><rect x="740.65" y="321.00" width="124.00" height="36.70" fill="#f1f1f1" stroke="#111" stroke-width="1.85"/><rect x="892.20" y="321.00" width="225.60" height="36.70" fill="#f1f1f1" stroke="#111" stroke-width="1.85"/><text x="221.15" y="350.60" font-size="30" text-anchor="middle" textLength="108.23">D16S539</text><text x="403.05" y="350.60" font-size="30" text-anchor="middle" textLength="92.22">D18S51</text><text x="612.30" y="350.60" font-size="30" text-anchor="middle" textLength="107.13">D2S1338</text><text x="802.15" y="350.60" font-size="30" text-anchor="middle" textLength="97.17">CSF1PO</text><text x="1005.10" y="350.60" font-size="30" text-anchor="middle" textLength="93.10">Penta D</text><text x="169.15" y="387.00" font-size="32" text-anchor="middle" textLength="32.29">80</text><text x="367.12" y="387.00" font-size="32" text-anchor="middle" textLength="48.84">160</text><text x="567.00" y="387.00" font-size="32" text-anchor="middle" textLength="48.59">240</text><text x="766.50" y="387.00" font-size="32" text-anchor="middle" textLength="48.59">320</text><text x="966.20" y="387.00" font-size="32" text-anchor="middle" textLength="47.59">400</text><text x="1165.95" y="387.00" font-size="32" text-anchor="middle" textLength="48.29">480</text><text x="87.85" y="410.80" font-size="32" text-anchor="middle" textLength="66.58">1,200</text><text x="96.95" y="461.10" font-size="32" text-anchor="middle" textLength="48.29">800</text><text x="97.15" y="511.20" font-size="32" text-anchor="middle" textLength="47.69">400</text><text x="113.15" y="561.50" font-size="32" text-anchor="middle" textLength="16.10">0</text><path d="M135.0 554.2 L136.0 554.2 L137.0 554.2 L138.0 554.2 L139.0 554.2 L140.0 554.2 L141.0 554.2 L142.0 554.2 L143.0 554.2 L144.0 554.2 L145.0 554.2 L146.0 554.2 L147.0 554.2 L148.0 554.2 L149.0 554.2 L150.0 554.2 L151.0 554.2 L152.0 554.2 L153.0 554.2 L154.0 554.2 L155.0 554.2 L156.0 554.2 L157.0 554.2 L158.0 554.2 L159.0 554.2 L160.0 554.2 L161.0 554.2 L162.0 554.2 L163.0 554.2 L164.0 554.2 L165.0 554.2 L166.0 554.2 L167.0 554.2 L168.0 554.2 L169.0 554.2 L170.0 554.2 L171.0 554.2 L172.0 554.2 L173.0 554.2 L174.0 554.2 L175.0 554.2 L176.0 554.2 L177.0 554.2 L178.0 554.2 L179.0 554.2 L180.0 554.2 L181.0 554.2 L182.0 554.2 L183.0 554.2 L184.0 554.2 L185.0 554.2 L186.0 554.2 L187.0 554.2 L188.0 554.2 L189.0 554.2 L190.0 554.2 L191.0 554.2 L192.0 554.2 L193.0 554.2 L194.0 554.2 L195.0 554.2 L196.0 554.2 L197.0 554.2 L198.0 554.2 L199.0 554.2 L200.0 554.2 L201.0 554.2 L202.0 554.2 L203.0 554.2 L204.0 554.2 L205.0 554.2 L206.0 554.2 L207.0 554.2 L208.0 554.2 L209.0 554.2 L210.0 554.2 L211.0 554.2 L212.0 554.2 L213.0 554.2 L214.0 554.2 L215.0 554.2 L216.0 554.2 L217.0 554.2 L218.0 554.2 L219.0 554.2 L220.0 554.2 L221.0 554.2 L222.0 554.2 L223.0 554.2 L224.0 554.2 L225.0 554.2 L226.0 554.2 L227.0 554.2 L228.0 554.2 L229.0 554.2 L230.0 554.2 L231.0 554.2 L232.0 554.2 L233.0 554.2 L234.0 554.2 L235.0 554.2 L236.0 554.2 L237.0 554.2 L238.0 554.2 L239.0 554.2 L240.0 554.2 L241.0 554.2 L242.0 554.2 L243.0 554.2 L244.0 554.2 L245.0 554.2 L246.0 554.2 L247.0 554.2 L248.0 554.2 L249.0 554.2 L250.0 554.2 L251.0 554.2 L252.0 554.2 L253.0 554.2 L254.0 554.2 L255.0 554.2 L256.0 554.2 L257.0 554.2 L258.0 554.2 L259.0 554.2 L260.0 554.2 L261.0 554.2 L262.0 554.2 L263.0 554.2 L264.0 554.2 L265.0 554.2 L266.0 554.2 L267.0 554.2 L268.0 554.2 L269.0 554.2 L270.0 554.2 L271.0 554.1 L272.0 553.9 L272.2 553.8 L272.4 553.8 L272.6 553.7 L272.8 553.7 L273.0 553.6 L273.2 553.5 L273.4 553.5 L273.6 553.4 L273.8 553.4 L274.0 553.3 L274.2 553.3 L274.4 553.2 L274.6 553.2 L274.8 553.1 L275.0 553.1 L275.2 553.1 L275.4 553.0 L275.6 553.0 L275.8 553.0 L276.0 553.0 L276.2 553.0 L276.4 553.0 L276.6 553.0 L276.8 553.0 L277.0 553.0 L277.2 553.0 L277.4 553.0 L277.6 553.0 L277.8 553.0 L278.0 553.0 L278.2 553.0 L278.4 553.0 L278.6 553.0 L278.8 553.0 L279.0 553.0 L279.2 553.0 L279.4 553.0 L279.6 553.0 L279.8 553.0 L280.0 553.0 L280.2 553.0 L280.4 553.0 L280.6 553.0 L280.8 553.0 L281.0 553.0 L281.2 553.0 L281.4 553.0 L281.6 553.0 L281.8 553.0 L282.0 553.0 L282.2 553.0 L282.4 553.0 L282.6 553.0 L282.8 553.0 L283.0 553.0 L283.2 553.0 L283.4 553.0 L283.6 553.0 L283.8 553.0 L284.0 553.0 L285.0 553.0 L286.0 553.0 L286.2 553.0 L286.4 553.0 L286.6 553.0 L286.8 553.0 L287.0 553.0 L287.2 552.9 L287.4 552.5 L287.6 551.1 L287.8 547.4 L288.0 540.4 L288.2 530.5 L288.4 519.8 L288.6 511.0 L288.8 505.7 L289.0 503.5 L289.2 503.2 L289.4 503.5 L289.6 505.7 L289.8 511.0 L290.0 519.8 L290.2 530.5 L290.4 540.4 L290.6 547.4 L290.8 551.1 L291.0 552.5 L291.2 552.9 L291.4 553.0 L291.6 553.0 L291.8 553.0 L292.0 553.0 L292.2 553.0 L292.4 553.0 L292.6 553.0 L292.8 553.0 L293.0 553.0 L293.2 553.0 L293.4 553.0 L294.4 553.0 L295.4 553.0 L295.6 553.0 L295.8 553.0 L296.0 553.0 L296.2 553.0 L296.4 553.0 L296.6 553.0 L296.8 553.0 L297.0 553.0 L297.2 553.0 L297.4 553.0 L297.6 553.0 L297.8 552.9 L298.0 552.8 L298.2 552.4 L298.4 551.9 L298.6 551.2 L298.8 550.5 L299.0 549.9 L299.2 549.5 L299.4 549.4 L299.6 549.3 L299.8 549.3 L300.0 549.4 L300.2 549.5 L300.4 549.9 L300.6 550.5 L300.8 551.2 L301.0 551.9 L301.2 552.4 L301.4 552.8 L301.6 552.9 L301.8 553.0 L302.0 553.0 L302.2 553.0 L302.4 553.0 L302.6 553.0 L302.8 553.0 L303.0 553.0 L303.2 553.0 L303.4 553.0 L303.6 553.0 L303.8 553.0 L304.0 553.0 L304.2 553.0 L304.4 553.0 L305.4 553.0 L306.4 553.0 L307.4 553.0 L307.6 553.0 L307.8 553.0 L308.0 553.0 L308.2 553.0 L308.4 552.9 L308.6 552.3 L308.8 550.2 L309.0 544.9 L309.2 534.8 L309.4 520.6 L309.6 505.2 L309.8 492.5 L310.0 484.8 L310.2 481.7 L310.4 481.3 L310.6 481.8 L310.8 485.0 L311.0 492.9 L311.2 505.6 L311.4 521.1 L311.6 535.5 L311.8 545.7 L312.0 551.1 L312.2 553.3 L312.4 553.9 L312.6 554.1 L312.8 554.2 L313.0 554.2 L313.2 554.2 L313.4 554.2 L313.6 554.2 L313.8 554.2 L314.0 554.2 L314.2 554.2 L314.4 554.2 L314.6 554.2 L315.6 554.2 L316.6 554.2 L317.6 554.2 L318.6 554.2 L319.6 554.2 L320.6 554.2 L321.6 554.2 L322.6 554.2 L323.6 554.2 L324.6 554.2 L325.6 554.2 L326.6 554.2 L327.6 554.2 L328.6 554.2 L329.6 554.2 L330.6 554.2 L331.6 554.2 L332.6 554.2 L333.6 554.2 L334.6 554.2 L335.6 554.2 L336.6 554.2 L337.6 554.2 L338.6 554.2 L339.6 554.2 L340.6 554.2 L341.6 554.2 L342.6 554.2 L343.6 554.2 L344.6 554.2 L345.6 554.2 L346.6 554.2 L347.6 554.2 L348.6 554.2 L349.6 554.2 L350.6 554.2 L351.6 554.2 L352.6 554.2 L353.6 554.2 L354.6 554.2 L355.6 554.2 L356.6 554.2 L357.6 554.2 L358.6 554.2 L359.6 554.2 L360.6 554.2 L361.6 554.2 L362.6 554.2 L363.6 554.2 L364.6 554.2 L365.6 554.2 L366.6 554.2 L367.6 554.2 L368.6 554.2 L369.6 554.2 L370.6 554.2 L371.6 554.2 L372.6 554.2 L373.6 554.2 L374.6 554.2 L375.6 554.2 L376.6 554.2 L377.6 554.2 L378.6 554.2 L379.6 554.2 L380.6 554.2 L381.6 554.2 L382.6 554.2 L383.6 554.2 L384.6 554.2 L385.6 554.2 L386.6 554.2 L387.6 554.2 L388.6 554.2 L389.6 554.1 L390.6 553.9 L390.8 553.8 L391.0 553.7 L391.2 553.7 L391.4 553.6 L391.6 553.5 L391.8 553.4 L392.0 553.3 L392.2 553.2 L392.4 553.1 L392.6 553.0 L392.8 552.9 L393.0 552.9 L393.2 552.8 L393.4 552.7 L393.6 552.6 L393.8 552.6 L394.0 552.5 L394.2 552.5 L394.4 552.5 L394.6 552.4 L394.8 552.4 L395.0 552.4 L395.2 552.4 L395.4 552.4 L395.6 552.4 L395.8 552.4 L396.0 552.4 L396.2 552.4 L396.4 552.4 L396.6 552.4 L396.8 552.4 L397.0 552.4 L397.2 552.4 L397.4 552.4 L397.6 552.4 L397.8 552.4 L398.0 552.4 L398.2 552.4 L398.4 552.4 L398.6 552.4 L398.8 552.4 L399.0 552.4 L399.2 552.4 L399.4 552.4 L399.6 552.4 L399.8 552.4 L400.0 552.4 L400.2 552.4 L400.4 552.4 L400.6 552.4 L400.8 552.4 L401.0 552.4 L401.2 552.4 L401.4 552.4 L401.6 552.3 L401.8 552.3 L402.0 552.3 L402.2 552.3 L402.4 552.3 L402.6 552.3 L402.8 552.3 L403.0 552.3 L403.2 552.3 L403.4 552.3 L403.6 552.3 L403.8 552.2 L404.0 552.2 L404.2 552.2 L404.4 552.2 L404.6 552.2 L404.8 552.2 L405.0 552.2 L405.2 552.2 L405.4 552.1 L405.6 552.1 L405.8 552.1 L406.0 552.1 L406.2 552.1 L406.4 552.1 L406.6 552.1 L406.8 552.0 L407.0 552.0 L407.2 552.0 L407.4 552.0 L407.6 552.0 L407.8 552.0 L408.0 552.0 L408.2 551.9 L408.4 551.9 L408.6 551.9 L408.8 551.9 L409.0 551.9 L409.2 551.9 L409.4 551.9 L409.6 551.9 L409.8 551.9 L410.0 551.9 L410.2 551.9 L410.4 551.9 L410.6 551.9 L410.8 551.9 L411.0 551.9 L411.2 551.9 L411.4 551.9 L411.6 551.9 L411.8 551.9 L412.0 552.0 L412.2 552.0 L412.4 552.0 L412.6 552.0 L412.8 552.0 L413.0 552.0 L413.2 552.0 L413.4 552.1 L413.6 552.1 L413.8 552.1 L414.0 552.1 L414.2 552.1 L414.4 552.1 L414.6 552.1 L414.8 552.2 L415.0 552.2 L415.2 552.2 L415.4 552.2 L415.6 552.2 L415.8 552.2 L416.0 552.2 L416.2 552.2 L416.4 552.3 L416.6 552.3 L416.8 552.3 L417.0 552.3 L417.2 552.3 L417.4 552.3 L417.6 552.3 L417.8 552.0 L418.0 550.8 L418.2 547.2 L418.4 539.3 L418.6 526.5 L418.8 510.6 L419.0 495.7 L419.2 485.0 L419.4 479.5 L419.6 478.0 L419.8 478.0 L420.0 479.6 L420.2 485.0 L420.4 495.7 L420.6 510.7 L420.8 526.5 L421.0 539.4 L421.2 547.3 L421.4 550.9 L421.6 552.1 L421.8 552.3 L422.0 552.4 L422.2 552.4 L422.4 552.4 L422.6 552.4 L422.8 552.4 L423.0 552.4 L423.2 552.4 L423.4 552.4 L423.6 552.4 L423.8 552.4 L424.0 552.4 L424.2 552.4 L424.4 552.4 L424.6 552.4 L424.8 552.4 L425.0 552.4 L425.2 552.4 L425.4 552.4 L425.6 552.4 L425.8 552.4 L426.0 552.4 L426.2 552.4 L426.4 552.4 L426.6 552.4 L426.8 552.4 L427.0 552.4 L427.2 552.4 L427.4 552.4 L427.6 552.4 L427.8 552.4 L428.0 552.2 L428.2 551.5 L428.4 548.8 L428.6 541.8 L428.8 528.7 L429.0 510.2 L429.2 490.2 L429.4 473.7 L429.6 463.6 L429.8 459.6 L430.0 459.0 L430.2 459.6 L430.4 463.7 L430.6 473.9 L430.8 490.5 L431.0 510.6 L431.2 529.3 L431.4 542.6 L431.6 549.8 L431.8 552.7 L432.0 553.6 L432.2 553.9 L432.4 554.0 L432.6 554.1 L432.8 554.2 L433.0 554.2 L433.2 554.2 L433.4 554.2 L433.6 554.2 L433.8 554.2 L434.0 554.2 L434.2 554.2 L435.2 554.2 L436.2 554.2 L437.2 554.2 L438.2 554.2 L439.2 554.2 L440.2 554.2 L441.2 554.2 L442.2 554.2 L443.2 554.2 L444.2 554.2 L445.2 554.2 L446.2 554.2 L447.2 554.2 L448.2 554.2 L449.2 554.2 L450.2 554.2 L451.2 554.2 L452.2 554.2 L453.2 554.2 L454.2 554.2 L455.2 554.2 L456.2 554.2 L457.2 554.2 L458.2 554.2 L459.2 554.2 L460.2 554.2 L461.2 554.2 L462.2 554.2 L463.2 554.2 L464.2 554.2 L465.2 554.2 L466.2 554.2 L467.2 554.2 L468.2 554.2 L469.2 554.2 L470.2 554.2 L471.2 554.2 L472.2 554.2 L473.2 554.2 L474.2 554.2 L475.2 554.2 L476.2 554.2 L477.2 554.2 L478.2 554.2 L479.2 554.2 L480.2 554.2 L481.2 554.2 L482.2 554.2 L483.2 554.2 L484.2 554.2 L485.2 554.2 L486.2 554.2 L487.2 554.2 L488.2 554.2 L489.2 554.2 L490.2 554.2 L491.2 554.2 L492.2 554.2 L493.2 554.2 L494.2 554.2 L495.2 554.2 L496.2 554.2 L497.2 554.2 L498.2 554.2 L499.2 554.2 L500.2 554.2 L501.2 554.2 L502.2 554.2 L503.2 554.2 L504.2 554.2 L505.2 554.2 L506.2 554.2 L507.2 554.2 L508.2 554.2 L509.2 554.2 L510.2 554.2 L511.2 554.2 L512.2 554.2 L513.2 554.2 L514.2 554.2 L515.2 554.2 L516.2 554.2 L517.2 554.2 L518.2 554.2 L519.2 554.2 L520.2 554.2 L521.2 554.2 L522.2 554.2 L523.2 554.2 L524.2 554.2 L525.2 554.2 L526.2 554.2 L527.2 554.2 L528.2 554.2 L529.2 554.2 L530.2 554.2 L531.2 554.2 L532.2 554.2 L533.2 554.2 L534.2 554.2 L535.2 554.2 L536.2 554.2 L537.2 554.2 L538.2 554.2 L539.2 554.2 L540.2 554.2 L541.2 554.2 L542.2 554.2 L543.2 554.2 L544.2 554.2 L545.2 554.2 L546.2 554.2 L547.2 554.2 L548.2 554.2 L549.2 554.2 L550.2 554.2 L551.2 554.2 L552.2 554.2 L553.2 554.2 L554.2 554.2 L555.2 554.2 L556.2 554.2 L557.2 554.2 L558.2 554.2 L559.2 554.2 L560.2 554.2 L561.2 554.2 L562.2 554.2 L563.2 554.2 L564.2 554.2 L565.2 554.2 L566.2 554.2 L567.2 554.2 L568.2 554.2 L569.2 554.2 L570.2 554.2 L571.2 554.2 L572.2 554.2 L573.2 554.2 L574.2 554.2 L575.2 554.2 L576.2 554.2 L577.2 554.2 L578.2 554.2 L579.2 554.2 L580.2 554.2 L581.2 554.2 L582.2 554.2 L583.2 554.2 L584.2 554.2 L585.2 554.2 L586.2 554.2 L587.2 554.2 L588.2 554.2 L589.2 554.2 L590.2 554.2 L591.2 554.2 L592.2 554.2 L593.2 554.2 L594.2 554.2 L595.2 554.2 L596.2 554.2 L597.2 554.2 L598.2 554.2 L599.2 554.2 L600.2 554.2 L601.2 554.2 L602.2 554.2 L603.2 554.2 L604.2 554.2 L605.2 554.2 L606.2 554.2 L607.2 554.2 L608.2 554.2 L609.2 554.2 L610.2 554.2 L611.2 554.2 L612.2 554.2 L613.2 554.2 L614.2 554.2 L615.2 554.2 L616.2 554.2 L617.2 554.2 L618.2 554.2 L619.2 554.2 L620.2 554.2 L621.2 554.2 L622.2 554.2 L623.2 554.2 L624.2 554.2 L625.2 554.2 L626.2 554.2 L627.2 554.2 L628.2 554.2 L629.2 554.2 L630.2 554.2 L631.2 554.2 L632.2 554.2 L633.2 554.2 L634.2 554.2 L635.2 554.2 L636.2 554.2 L637.2 554.2 L638.2 554.2 L639.2 554.2 L640.2 554.2 L641.2 554.2 L642.2 554.2 L643.2 554.2 L644.2 554.2 L645.2 554.2 L646.2 554.2 L647.2 554.2 L648.2 554.2 L649.2 554.2 L650.2 554.2 L651.2 554.2 L652.2 554.2 L653.2 554.2 L654.2 554.2 L655.2 554.2 L656.2 554.2 L657.2 554.2 L658.2 554.2 L659.2 554.2 L660.2 554.2 L661.2 554.2 L662.2 554.2 L663.2 554.2 L664.2 554.2 L665.2 554.2 L666.2 554.2 L667.2 554.2 L668.2 554.2 L669.2 554.2 L670.2 554.2 L671.2 554.2 L672.2 554.2 L673.2 554.2 L674.2 554.2 L675.2 554.2 L676.2 554.2 L677.2 554.2 L678.2 554.2 L679.2 554.2 L680.2 554.2 L681.2 554.2 L682.2 554.2 L683.2 554.2 L684.2 554.2 L685.2 554.2 L686.2 554.2 L687.2 554.2 L688.2 554.2 L689.2 554.2 L690.2 554.2 L691.2 554.2 L692.2 554.2 L693.2 554.2 L694.2 554.2 L695.2 554.2 L696.2 554.2 L697.2 554.2 L698.2 554.2 L699.2 554.2 L700.2 554.2 L701.2 554.2 L702.2 554.2 L703.2 554.2 L704.2 554.2 L705.2 554.2 L706.2 554.1 L707.2 553.8 L708.2 553.5 L709.2 553.3 L709.4 553.2 L709.6 553.2 L709.8 553.1 L710.0 553.1 L710.2 553.1 L710.4 553.0 L710.6 553.0 L710.8 553.0 L711.0 553.0 L711.2 552.9 L711.4 552.6 L711.6 552.0 L711.8 551.1 L712.0 549.9 L712.2 548.7 L712.4 547.6 L712.6 546.9 L712.8 546.6 L713.0 546.5 L713.2 546.5 L713.4 546.6 L713.6 546.9 L713.8 547.6 L714.0 548.7 L714.2 549.9 L714.4 551.1 L714.6 552.0 L714.8 552.6 L715.0 552.9 L715.2 553.0 L715.4 553.0 L715.6 553.0 L715.8 553.0 L716.0 553.0 L716.2 553.0 L716.4 553.0 L716.6 553.0 L716.8 553.0 L717.0 553.0 L717.2 553.0 L717.4 553.0 L717.6 553.0 L717.8 553.0 L718.8 553.0 L719.8 553.0 L720.0 553.0 L720.2 553.0 L720.4 553.0 L720.6 553.0 L720.8 553.0 L721.0 553.0 L721.2 553.0 L721.4 553.0 L721.6 552.8 L721.8 552.1 L722.0 549.5 L722.2 542.8 L722.4 530.2 L722.6 512.4 L722.8 493.2 L723.0 477.3 L723.2 467.6 L723.4 463.8 L723.6 463.3 L723.8 464.0 L724.0 467.9 L724.2 477.8 L724.4 493.7 L724.6 513.0 L724.8 531.0 L725.0 543.7 L725.2 550.5 L725.4 553.2 L725.6 554.0 L725.8 554.2 L726.0 554.2 L726.2 554.2 L726.4 554.2 L726.6 554.2 L726.8 554.2 L727.0 554.2 L727.2 554.2 L727.4 554.2 L727.6 554.2 L727.8 554.2 L728.8 554.2 L729.8 554.2 L730.8 554.2 L731.8 554.2 L732.8 554.2 L733.8 554.2 L734.8 554.2 L735.8 554.2 L736.8 554.2 L737.8 554.2 L738.8 554.2 L739.8 554.2 L740.8 554.2 L741.8 554.2 L742.8 554.2 L743.8 554.2 L744.8 554.2 L745.8 554.2 L746.8 554.2 L747.8 554.2 L748.8 554.2 L749.8 554.2 L750.8 554.2 L751.8 554.2 L752.8 554.2 L753.8 554.2 L754.8 554.2 L755.8 554.2 L756.8 554.2 L757.8 554.2 L758.8 554.2 L759.8 554.2 L760.8 554.2 L761.8 554.2 L762.8 554.2 L763.8 554.2 L764.8 554.2 L765.8 554.2 L766.8 554.2 L767.8 554.2 L768.8 554.2 L769.8 554.2 L770.8 554.2 L771.8 554.2 L772.8 554.2 L773.8 554.2 L774.8 554.2 L775.8 554.2 L776.8 554.2 L777.8 554.2 L778.8 554.2 L779.8 554.2 L780.8 554.2 L781.8 554.2 L782.8 554.2 L783.8 554.2 L784.8 554.2 L785.8 554.2 L786.8 554.2 L787.8 554.2 L788.8 554.2 L789.8 554.2 L790.8 554.2 L791.8 554.2 L792.8 554.2 L793.8 554.2 L794.8 554.2 L795.8 554.2 L796.8 554.2 L797.8 554.2 L798.8 554.2 L799.8 554.2 L800.8 554.2 L801.8 554.2 L802.8 554.2 L803.8 554.2 L804.8 554.2 L805.8 554.2 L806.8 554.2 L807.8 554.2 L808.8 554.2 L809.8 554.2 L810.8 554.2 L811.8 554.2 L812.8 554.2 L813.8 554.2 L814.8 554.2 L815.8 554.2 L816.8 554.2 L817.8 554.2 L818.8 554.2 L819.8 554.2 L820.8 554.2 L821.8 554.2 L822.8 554.2 L823.8 554.2 L824.8 554.2 L825.8 554.2 L826.8 554.2 L827.8 554.2 L828.8 554.2 L829.8 554.2 L830.8 554.2 L831.8 554.2 L832.8 554.2 L833.8 554.2 L834.8 554.2 L835.8 554.2 L836.8 554.2 L837.8 554.2 L838.8 554.2 L839.8 554.2 L840.8 554.2 L841.8 554.2 L842.8 554.2 L843.8 554.2 L844.8 554.1 L845.8 553.9 L846.8 553.5 L847.8 553.2 L848.0 553.1 L848.2 553.0 L848.4 553.0 L848.6 552.9 L848.8 552.9 L849.0 552.8 L849.2 552.8 L849.4 552.7 L849.6 552.7 L849.8 552.7 L850.0 552.7 L850.2 552.7 L850.4 552.7 L850.6 552.7 L850.8 552.7 L851.0 552.7 L851.2 552.7 L851.4 552.7 L851.6 552.7 L851.8 552.7 L852.0 552.7 L852.2 552.7 L852.4 552.7 L852.6 552.7 L852.8 552.7 L853.0 552.7 L853.2 552.7 L853.4 552.7 L853.6 552.7 L853.8 552.7 L854.0 552.7 L854.2 552.7 L854.4 552.7 L854.6 552.7 L854.8 552.7 L855.0 552.7 L855.2 552.7 L855.4 552.7 L855.6 552.7 L855.8 552.7 L856.0 552.7 L856.2 552.7 L856.4 552.6 L856.6 552.6 L856.8 552.6 L857.0 552.6 L857.2 552.6 L857.4 552.6 L857.6 552.6 L857.8 552.6 L858.0 552.6 L858.2 552.6 L858.4 552.6 L858.6 552.5 L858.8 552.5 L859.0 552.5 L859.2 552.5 L859.4 552.5 L859.6 552.5 L859.8 552.5 L860.0 552.5 L860.2 552.4 L860.4 552.4 L860.6 552.4 L860.8 552.4 L861.0 552.4 L861.2 552.4 L861.4 552.4 L861.6 552.4 L861.8 552.4 L862.0 552.4 L862.2 552.4 L862.4 552.4 L862.6 552.4 L862.8 552.4 L863.0 552.4 L863.2 552.4 L863.4 552.4 L863.6 552.4 L863.8 552.4 L864.0 552.5 L864.2 552.5 L864.4 552.5 L864.6 552.5 L864.8 552.5 L865.0 552.5 L865.2 552.5 L865.4 552.3 L865.6 551.6 L865.8 549.4 L866.0 544.5 L866.2 536.5 L866.4 526.6 L866.6 517.3 L866.8 510.7 L867.0 507.3 L867.2 506.4 L867.4 506.4 L867.6 507.3 L867.8 510.7 L868.0 517.4 L868.2 526.7 L868.4 536.6 L868.6 544.6 L868.8 549.5 L869.0 551.7 L869.2 552.5 L869.4 552.7 L869.6 552.7 L869.8 552.7 L870.0 552.7 L870.2 552.7 L870.4 552.7 L870.6 552.7 L870.8 552.7 L871.0 552.7 L871.2 552.7 L871.4 552.7 L871.6 552.7 L871.8 552.7 L872.0 552.7 L872.2 552.7 L872.4 552.7 L872.6 552.7 L872.8 552.7 L873.0 552.7 L873.2 552.7 L873.4 552.7 L873.6 552.7 L873.8 552.7 L874.0 552.7 L874.2 552.7 L874.4 552.7 L874.6 552.7 L874.8 552.7 L875.0 552.7 L875.2 552.7 L875.4 552.6 L875.6 552.2 L875.8 550.7 L876.0 546.9 L876.2 539.8 L876.4 529.7 L876.6 518.8 L876.8 509.8 L877.0 504.3 L877.2 502.2 L877.4 501.9 L877.6 502.3 L877.8 504.6 L878.0 510.2 L878.2 519.3 L878.4 530.4 L878.6 540.6 L878.8 547.9 L879.0 551.8 L879.2 553.4 L879.4 554.0 L879.6 554.1 L879.8 554.2 L880.0 554.2 L880.2 554.2 L880.4 554.2 L880.6 554.2 L880.8 554.2 L881.0 554.2 L881.2 554.2 L881.4 554.2 L882.4 554.2 L883.4 554.2 L884.4 554.2 L885.4 554.2 L886.4 554.2 L887.4 554.2 L888.4 554.2 L889.4 554.2 L890.4 554.2 L891.4 554.2 L892.4 554.2 L893.4 554.2 L894.4 554.2 L895.4 554.2 L896.4 554.2 L897.4 554.2 L898.4 554.2 L899.4 554.2 L900.4 554.2 L901.4 554.2 L902.4 554.2 L903.4 554.2 L904.4 554.2 L905.4 554.2 L906.4 554.2 L907.4 554.2 L908.4 554.2 L909.4 554.2 L910.4 554.2 L911.4 554.2 L912.4 554.2 L913.4 554.2 L914.4 554.2 L915.4 554.2 L916.4 554.2 L917.4 554.2 L918.4 554.2 L919.4 554.2 L920.4 554.2 L921.4 554.2 L922.4 554.2 L923.4 554.2 L924.4 554.2 L925.4 554.2 L926.4 554.2 L927.4 554.2 L928.4 554.2 L929.4 554.2 L930.4 554.2 L931.4 554.2 L932.4 554.2 L933.4 554.2 L934.4 554.2 L935.4 554.2 L936.4 554.2 L937.4 554.2 L938.4 554.2 L939.4 554.2 L940.4 554.2 L941.4 554.2 L942.4 554.2 L943.4 554.2 L944.4 554.2 L945.4 554.2 L946.4 554.2 L947.4 554.2 L948.4 554.2 L949.4 554.2 L950.4 554.2 L951.4 554.2 L952.4 554.2 L953.4 554.2 L954.4 554.2 L955.4 554.2 L956.4 554.2 L957.4 554.2 L958.4 554.2 L959.4 554.2 L960.4 554.2 L961.4 554.2 L962.4 554.2 L963.4 554.2 L964.4 554.2 L965.4 554.2 L966.4 554.2 L967.4 554.2 L968.4 554.2 L969.4 554.2 L970.4 554.2 L971.4 554.2 L972.4 554.2 L973.4 554.2 L974.4 554.2 L975.4 554.2 L976.4 554.2 L977.4 554.2 L978.4 554.2 L979.4 554.2 L980.4 554.2 L981.4 554.2 L982.4 554.2 L983.4 554.2 L984.4 554.2 L985.4 554.2 L986.4 554.2 L987.4 554.2 L988.4 554.2 L989.4 554.2 L990.4 554.2 L991.4 554.2 L992.4 554.2 L993.4 554.2 L994.4 554.2 L995.4 554.2 L996.4 554.2 L997.4 554.2 L998.4 554.2 L999.4 554.2 L1000.4 554.2 L1001.4 554.2 L1002.4 554.2 L1003.4 554.2 L1004.4 554.2 L1005.4 554.2 L1006.4 554.2 L1007.4 554.2 L1008.4 554.2 L1009.4 554.2 L1010.4 554.2 L1011.4 554.2 L1012.4 554.2 L1013.4 554.2 L1014.4 554.2 L1015.4 554.2 L1016.4 554.2 L1017.4 554.2 L1018.4 554.2 L1019.4 554.2 L1020.4 554.2 L1021.4 554.2 L1022.4 554.2 L1023.4 554.2 L1024.4 554.2 L1025.4 554.2 L1026.4 554.2 L1027.4 554.2 L1028.4 554.2 L1029.4 554.2 L1030.4 554.2 L1031.4 554.2 L1032.4 554.2 L1033.4 554.2 L1034.4 554.2 L1035.4 554.2 L1036.4 554.2 L1037.4 554.2 L1038.4 554.2 L1039.4 554.2 L1040.4 554.2 L1041.4 554.2 L1042.4 554.2 L1043.4 554.2 L1044.4 554.2 L1045.4 554.2 L1046.4 554.2 L1047.4 554.2 L1048.4 554.2 L1049.4 554.2 L1050.4 554.2 L1051.4 554.2 L1051.6 554.2 L1051.8 554.2 L1052.0 554.2 L1052.2 554.2 L1052.4 554.2 L1052.6 554.2 L1052.8 554.2 L1053.0 554.1 L1053.2 553.9 L1053.4 553.2 L1053.6 551.5 L1053.8 548.3 L1054.0 543.2 L1054.2 536.5 L1054.4 529.0 L1054.6 522.1 L1054.8 516.6 L1055.0 513.1 L1055.2 511.5 L1055.4 511.0 L1055.6 511.0 L1055.8 511.5 L1056.0 513.1 L1056.2 516.6 L1056.4 522.1 L1056.6 529.0 L1056.8 536.5 L1057.0 543.2 L1057.2 548.3 L1057.4 551.5 L1057.6 553.2 L1057.8 553.9 L1058.0 554.1 L1058.2 554.2 L1058.4 554.2 L1058.6 554.2 L1058.8 554.2 L1059.0 554.2 L1059.2 554.2 L1059.4 554.2 L1059.6 554.2 L1059.8 554.2 L1060.0 554.2 L1060.2 554.2 L1060.4 554.2 L1060.6 554.2 L1061.6 554.2 L1062.6 554.2 L1063.6 554.2 L1064.6 554.2 L1065.6 554.2 L1066.6 554.2 L1067.6 554.2 L1068.6 554.2 L1069.6 554.2 L1070.6 554.2 L1071.6 554.2 L1072.6 554.2 L1073.6 554.2 L1074.6 554.2 L1075.6 554.2 L1076.6 554.2 L1077.6 554.2 L1078.6 554.2 L1079.6 554.2 L1080.6 554.2 L1081.6 554.2 L1082.6 554.2 L1083.6 554.2 L1084.6 554.2 L1085.6 554.2 L1086.6 554.2 L1087.6 554.2 L1088.6 554.2 L1089.6 554.2 L1090.6 554.2 L1091.6 554.2 L1092.6 554.2 L1093.6 554.2 L1094.6 554.2 L1095.6 554.2 L1096.6 554.2 L1097.6 554.2 L1098.6 554.2 L1099.6 554.2 L1100.6 554.2 L1101.6 554.2 L1102.6 554.2 L1103.6 554.2 L1104.6 554.2 L1105.6 554.2 L1106.6 554.2 L1107.6 554.2 L1108.6 554.2 L1109.6 554.2 L1110.6 554.2 L1111.6 554.2 L1112.6 554.2 L1113.6 554.2 L1114.6 554.2 L1114.8 554.2 L1115.0 554.2 L1115.2 554.2 L1115.4 554.2 L1115.6 554.2 L1115.8 554.2 L1116.0 554.2 L1116.2 554.2 L1116.4 554.2 L1116.6 554.2 L1116.8 554.2 L1117.0 554.1 L1117.2 553.7 L1117.4 552.8 L1117.6 550.9 L1117.8 547.6 L1118.0 542.7 L1118.2 536.8 L1118.4 530.8 L1118.6 525.7 L1118.8 522.1 L1119.0 520.0 L1119.2 519.2 L1119.4 519.1 L1119.6 519.2 L1119.8 520.0 L1120.0 522.1 L1120.2 525.7 L1120.4 530.8 L1120.6 536.8 L1120.8 542.7 L1121.0 547.6 L1121.2 550.9 L1121.4 552.8 L1121.6 553.7 L1121.8 554.1 L1122.0 554.2 L1122.2 554.2 L1122.4 554.2 L1122.6 554.2 L1122.8 554.2 L1123.0 554.2 L1123.2 554.2 L1123.4 554.2 L1123.6 554.2 L1123.8 554.2 L1124.0 554.2 L1124.2 554.2 L1124.4 554.2 L1125.4 554.2 L1126.4 554.2 L1127.4 554.2 L1128.4 554.2 L1129.4 554.2 L1130.4 554.2 L1131.4 554.2 L1132.4 554.2 L1133.4 554.2 L1134.4 554.2 L1135.4 554.2 L1136.4 554.2 L1137.4 554.2 L1138.4 554.2 L1139.4 554.2 L1140.4 554.2 L1141.4 554.2 L1142.4 554.2 L1143.4 554.2 L1144.4 554.2 L1145.4 554.2 L1146.4 554.2 L1147.4 554.2 L1148.4 554.2 L1149.4 554.2 L1150.4 554.2 L1151.4 554.2 L1152.4 554.2 L1153.4 554.2 L1154.4 554.2 L1155.4 554.2 L1156.4 554.2 L1157.4 554.2 L1158.4 554.2 L1159.4 554.2 L1160.4 554.2 L1161.4 554.2 L1162.4 554.2 L1163.4 554.2 L1164.4 554.2 L1165.4 554.2 L1166.4 554.2 L1167.4 554.2 L1168.4 554.2 L1169.4 554.2 L1170.4 554.2 L1171.4 554.2 L1172.4 554.2 L1173.4 554.2 L1174.4 554.2 L1175.4 554.2 L1176.4 554.2 L1177.4 554.2 L1178.4 554.2 L1179.4 554.2 L1180.4 554.2 L1181.4 554.2 L1182.4 554.2 L1183.4 554.2 L1184.4 554.2 L1185.4 554.2 L1186.4 554.2 L1187.4 554.2 L1188.4 554.2 L1189.4 554.2 L1190.4 554.2 L1191.4 554.2 L1192.4 554.2 L1193.4 554.2 L1194.4 554.2 L1195.4 554.2 L1196.4 554.2 L1197.4 554.2 L1198.4 554.2 L1199.4 554.2 L1200.4 554.2 L1201.4 554.2 L1202.4 554.2 L1203.4 554.2 L1204.4 554.2 L1205.4 554.2 L1206.4 554.2 L1207.4 554.2 L1208.4 554.2 L1209.4 554.2 L1210.4 554.2 L1211.4 554.2 L1212.4 554.2 L1213.4 554.2 L1214.4 554.2 L1215.4 554.2 L1216.4 554.2" stroke="#0db04b" stroke-width="1.8" fill="none" stroke-linejoin="round"/><rect x="133.00" y="397.90" width="1085.80" height="158.80" fill="none" stroke="#b0b0b0" stroke-width="3.5"/><path d="M167.75 391.00V404.80M268.00 391.00V404.80M367.50 391.00V404.80M467.50 391.00V404.80M567.50 391.00V404.80M667.50 391.00V404.80M768.00 391.00V404.80M866.75 391.00V404.80M966.50 391.00V404.80M1066.00 391.00V404.80M1165.80 391.00V404.80M126.1 424.66H140.1M126.1 451.70H140.1M126.1 476.70H140.1M126.1 501.60H140.1M126.1 528.70H140.1" stroke="#b0b0b0" stroke-width="3" fill="none"/></g>
<g><rect x="142.45" y="580.00" width="119.40" height="36.70" fill="#f1f1f1" stroke="#111" stroke-width="1.85"/><rect x="279.95" y="580.00" width="166.85" height="36.70" fill="#f1f1f1" stroke="#111" stroke-width="1.85"/><rect x="460.65" y="580.00" width="171.20" height="36.70" fill="#f1f1f1" stroke="#111" stroke-width="1.85"/><rect x="634.95" y="580.00" width="121.60" height="36.70" fill="#f1f1f1" stroke="#111" stroke-width="1.85"/><rect x="760.40" y="580.00" width="154.45" height="36.70" fill="#f1f1f1" stroke="#111" stroke-width="1.85"/><rect x="934.35" y="580.00" width="140.60" height="36.70" fill="#f1f1f1" stroke="#111" stroke-width="1.85"/><rect x="1074.95" y="580.00" width="127.40" height="36.70" fill="#f1f1f1" stroke="#111" stroke-width="1.85"/><text x="202.20" y="610.80" font-size="30" text-anchor="middle" textLength="64.04">TH01</text><text x="363.40" y="610.80" font-size="30" text-anchor="middle" textLength="53.36">vWA</text><text x="546.10" y="610.80" font-size="30" text-anchor="middle" textLength="92.72">D21S11</text><text x="695.90" y="610.80" font-size="30" text-anchor="middle" textLength="92.32">D7S820</text><text x="838.05" y="610.80" font-size="30" text-anchor="middle" textLength="92.22">D5S818</text><text x="1004.20" y="610.80" font-size="30" text-anchor="middle" textLength="67.10">TPOX</text><text x="1138.60" y="610.80" font-size="30" text-anchor="middle" textLength="93.40">DYS391</text><text x="169.15" y="646.00" font-size="32" text-anchor="middle" textLength="32.29">80</text><text x="367.12" y="646.00" font-size="32" text-anchor="middle" textLength="48.84">160</text><text x="567.00" y="646.00" font-size="32" text-anchor="middle" textLength="48.59">240</text><text x="766.50" y="646.00" font-size="32" text-anchor="middle" textLength="48.59">320</text><text x="966.20" y="646.00" font-size="32" text-anchor="middle" textLength="47.59">400</text><text x="1165.95" y="646.00" font-size="32" text-anchor="middle" textLength="48.29">480</text><text x="87.85" y="669.80" font-size="32" text-anchor="middle" textLength="66.58">1,200</text><text x="96.95" y="720.10" font-size="32" text-anchor="middle" textLength="48.29">800</text><text x="97.15" y="770.20" font-size="32" text-anchor="middle" textLength="47.69">400</text><text x="113.15" y="820.50" font-size="32" text-anchor="middle" textLength="16.10">0</text><path d="M135.0 762.6 L135.2 773.5 L135.4 782.0 L135.6 788.6 L135.8 793.8 L136.0 797.8 L136.2 800.9 L136.4 803.3 L136.6 805.2 L136.8 806.7 L137.0 807.9 L137.2 808.7 L137.4 809.4 L137.6 810.0 L137.8 810.4 L138.0 810.7 L138.2 811.0 L138.4 811.2 L138.6 811.4 L138.8 811.5 L139.0 811.6 L139.2 811.6 L139.4 811.7 L139.6 811.7 L139.8 811.8 L140.0 811.8 L140.2 811.8 L140.4 811.8 L140.6 811.9 L140.8 811.9 L141.0 811.9 L141.2 811.9 L141.4 811.9 L141.6 811.9 L141.8 811.9 L142.0 811.9 L142.2 811.9 L143.2 811.9 L144.2 811.9 L145.2 811.9 L146.2 811.9 L147.2 811.9 L148.2 811.9 L149.2 811.9 L150.2 811.9 L151.2 811.9 L152.2 811.9 L153.2 811.9 L154.2 811.9 L155.2 811.9 L156.2 811.9 L157.2 811.9 L158.2 811.9 L159.2 811.9 L160.2 811.9 L161.2 811.9 L162.2 811.9 L163.2 811.9 L164.2 811.9 L165.2 811.9 L166.2 811.9 L167.2 811.9 L168.2 811.9 L169.2 811.9 L170.2 811.9 L171.2 811.9 L172.2 811.9 L173.2 811.9 L174.2 811.9 L175.2 811.9 L176.2 811.9 L177.2 811.9 L178.2 811.9 L179.2 811.9 L180.2 811.9 L181.2 811.9 L181.4 811.9 L181.6 811.9 L181.8 811.9 L182.0 811.8 L182.2 811.5 L182.4 810.8 L182.6 809.2 L182.8 806.0 L183.0 800.8 L183.2 793.3 L183.4 784.2 L183.6 774.7 L183.8 766.4 L184.0 760.4 L184.2 757.4 L184.4 756.7 L184.6 757.4 L184.8 760.4 L185.0 766.4 L185.2 774.7 L185.4 784.2 L185.6 793.3 L185.8 800.8 L186.0 806.0 L186.2 809.2 L186.4 810.8 L186.6 811.5 L186.8 811.8 L187.0 811.9 L187.2 811.9 L187.4 811.9 L187.6 811.9 L187.8 811.9 L188.0 811.9 L188.2 811.9 L188.4 811.9 L188.6 811.9 L189.6 811.9 L190.6 811.9 L191.6 811.9 L192.6 811.9 L193.6 811.9 L194.6 811.9 L195.6 811.9 L196.6 811.9 L197.6 811.9 L198.6 811.9 L199.6 811.9 L200.6 811.9 L201.6 811.9 L202.6 811.9 L203.6 811.9 L204.6 811.9 L205.6 811.9 L206.6 811.9 L207.6 811.9 L208.6 811.9 L208.8 811.9 L209.0 811.9 L209.2 811.9 L209.4 811.9 L209.6 811.9 L209.8 811.8 L210.0 811.5 L210.2 810.7 L210.4 809.0 L210.6 805.6 L210.8 800.1 L211.0 792.2 L211.2 782.6 L211.4 772.5 L211.6 763.6 L211.8 757.3 L212.0 754.1 L212.2 753.4 L212.4 754.1 L212.6 757.3 L212.8 763.6 L213.0 772.5 L213.2 782.6 L213.4 792.2 L213.6 800.1 L213.8 805.6 L214.0 809.0 L214.2 810.7 L214.4 811.5 L214.6 811.8 L214.8 811.9 L215.0 811.9 L215.2 811.9 L215.4 811.9 L215.6 811.9 L215.8 811.9 L216.0 811.9 L216.2 811.9 L216.4 811.9 L217.4 811.9 L218.4 811.9 L219.4 811.9 L220.4 811.9 L221.4 811.9 L222.4 811.9 L223.4 811.9 L224.4 811.9 L225.4 811.9 L226.4 811.9 L227.4 811.9 L228.4 811.9 L229.4 811.9 L230.4 811.9 L231.4 811.9 L232.4 811.9 L233.4 811.9 L234.4 811.9 L235.4 811.9 L236.4 811.9 L237.4 811.9 L238.4 811.9 L239.4 811.9 L240.4 811.9 L241.4 811.9 L242.4 811.9 L243.4 811.9 L244.4 811.9 L245.4 811.9 L246.4 811.9 L247.4 811.9 L248.4 811.9 L249.4 811.9 L250.4 811.9 L251.4 811.9 L252.4 811.9 L253.4 811.9 L254.4 811.9 L255.4 811.9 L256.4 811.9 L257.4 811.9 L258.4 811.9 L259.4 811.9 L260.4 811.9 L261.4 811.9 L262.4 811.9 L263.4 811.9 L264.4 811.9 L265.4 811.9 L266.4 811.9 L267.4 811.9 L268.4 811.9 L269.4 811.9 L270.4 811.9 L271.4 811.9 L272.4 811.9 L273.4 811.9 L274.4 811.9 L275.4 811.9 L276.4 811.9 L277.4 811.9 L278.4 811.9 L279.4 811.9 L280.4 811.9 L281.4 811.9 L282.4 811.9 L283.4 811.9 L284.4 811.9 L285.4 811.9 L286.4 811.9 L287.4 811.9 L288.4 811.9 L289.4 811.9 L290.4 811.9 L291.4 811.9 L292.4 811.9 L293.4 811.9 L294.4 811.9 L295.4 811.9 L296.4 811.9 L297.4 811.9 L298.4 811.9 L299.4 811.9 L300.4 811.9 L301.4 811.9 L302.4 811.9 L303.4 811.9 L304.4 811.9 L305.4 811.9 L306.4 811.9 L307.4 811.9 L308.4 811.9 L309.4 811.9 L310.4 811.9 L311.4 811.9 L312.4 811.9 L313.4 811.9 L314.4 811.9 L315.4 811.9 L316.4 811.9 L317.4 811.9 L318.4 811.9 L319.4 811.9 L320.4 811.9 L321.4 811.9 L322.4 811.9 L323.4 811.9 L324.4 811.9 L325.4 811.9 L326.4 811.9 L327.4 811.9 L327.6 811.9 L327.8 811.9 L328.0 811.9 L328.2 811.9 L328.4 811.9 L328.6 811.9 L328.8 811.9 L329.0 811.9 L329.2 811.9 L329.4 811.9 L329.6 811.9 L329.8 811.9 L330.0 811.9 L330.2 811.9 L330.4 811.9 L330.6 811.9 L330.8 811.9 L331.0 811.8 L331.2 811.8 L331.4 811.8 L331.6 811.8 L331.8 811.7 L332.0 811.7 L332.2 811.7 L332.4 811.6 L332.6 811.5 L332.8 811.4 L333.0 811.4 L333.2 811.3 L333.4 811.1 L333.6 811.0 L333.8 810.9 L334.0 810.8 L334.2 810.6 L334.4 810.5 L334.6 810.3 L334.8 810.2 L335.0 810.0 L335.2 809.9 L335.4 809.8 L335.6 809.6 L335.8 809.5 L336.0 809.5 L336.2 809.4 L336.4 809.4 L336.6 809.4 L336.8 809.4 L337.0 809.5 L337.2 809.5 L337.4 809.6 L337.6 809.8 L337.8 809.9 L338.0 810.0 L338.2 810.2 L338.4 810.3 L338.6 810.5 L338.8 810.6 L339.0 810.8 L339.2 810.9 L339.4 811.0 L339.6 811.1 L339.8 811.3 L340.0 811.4 L340.2 811.4 L340.4 811.5 L340.6 811.6 L340.8 811.7 L341.0 811.7 L341.2 811.7 L341.4 811.8 L341.6 811.8 L341.8 811.8 L342.0 811.8 L342.2 811.9 L342.4 811.9 L342.6 811.9 L342.8 811.9 L343.0 811.9 L343.2 811.9 L343.4 811.9 L343.6 811.9 L343.8 811.9 L344.0 811.9 L344.2 811.8 L344.4 811.7 L344.6 811.2 L344.8 810.0 L345.0 807.4 L345.2 802.9 L345.4 796.0 L345.6 786.9 L345.8 776.6 L346.0 766.7 L346.2 758.8 L346.4 753.9 L346.6 752.0 L346.8 752.0 L347.0 753.9 L347.2 758.8 L347.4 766.7 L347.6 776.6 L347.8 786.9 L348.0 796.0 L348.2 802.9 L348.4 807.4 L348.6 810.0 L348.8 811.2 L349.0 811.7 L349.2 811.8 L349.4 811.9 L349.6 811.9 L349.8 811.9 L350.0 811.9 L350.2 811.9 L350.4 811.9 L350.6 811.9 L350.8 811.9 L351.8 811.9 L352.8 811.9 L353.8 811.9 L354.8 811.9 L355.8 811.9 L356.8 811.9 L357.8 811.9 L358.8 811.9 L359.8 811.9 L360.8 811.9 L361.8 811.9 L362.8 811.9 L363.0 811.9 L363.2 811.9 L363.4 811.9 L363.6 811.9 L363.8 811.9 L364.0 811.9 L364.2 811.8 L364.4 811.7 L364.6 811.2 L364.8 810.1 L365.0 808.1 L365.2 804.8 L365.4 800.0 L365.6 794.2 L365.8 788.1 L366.0 782.8 L366.2 779.0 L366.4 777.0 L366.6 776.6 L366.8 777.0 L367.0 779.0 L367.2 782.8 L367.4 788.1 L367.6 794.2 L367.8 800.0 L368.0 804.8 L368.2 808.1 L368.4 810.1 L368.6 811.2 L368.8 811.7 L369.0 811.8 L369.2 811.9 L369.4 811.9 L369.6 811.9 L369.8 811.9 L370.0 811.9 L370.2 811.9 L370.4 811.9 L370.6 811.9 L370.8 811.9 L371.8 811.9 L372.8 811.9 L373.8 811.9 L374.8 811.9 L375.8 811.9 L376.8 811.9 L377.8 811.9 L378.8 811.9 L379.8 811.9 L380.8 811.9 L381.8 811.9 L382.8 811.9 L383.8 811.9 L384.8 811.9 L385.8 811.9 L386.8 811.9 L387.8 811.9 L388.8 811.9 L389.8 811.9 L390.8 811.9 L391.8 811.9 L392.8 811.9 L393.8 811.9 L394.8 811.9 L395.8 811.9 L396.8 811.9 L397.8 811.9 L398.8 811.9 L399.8 811.9 L400.8 811.9 L401.8 811.9 L402.8 811.9 L403.8 811.9 L404.8 811.9 L405.8 811.9 L406.8 811.9 L407.8 811.9 L408.8 811.9 L409.8 811.9 L410.8 811.9 L411.8 811.9 L412.8 811.9 L413.8 811.9 L414.8 811.9 L415.8 811.9 L416.8 811.9 L417.8 811.9 L418.8 811.9 L419.8 811.9 L420.8 811.9 L421.8 811.9 L422.8 811.9 L423.8 811.9 L424.8 811.9 L425.8 811.9 L426.8 811.9 L427.8 811.9 L428.8 811.9 L429.8 811.9 L430.8 811.9 L431.8 811.9 L432.8 811.9 L433.8 811.9 L434.8 811.9 L435.8 811.9 L436.8 811.9 L437.8 811.9 L438.8 811.9 L439.8 811.9 L440.8 811.9 L441.8 811.9 L442.8 811.9 L443.8 811.9 L444.8 811.9 L445.8 811.9 L446.8 811.9 L447.8 811.9 L448.8 811.9 L449.8 811.9 L450.8 811.9 L451.8 811.9 L452.8 811.9 L453.8 811.9 L454.8 811.9 L455.8 811.9 L456.8 811.9 L457.8 811.9 L458.8 811.9 L459.8 811.9 L460.8 811.9 L461.8 811.9 L462.8 811.9 L463.8 811.9 L464.8 811.9 L465.8 811.9 L466.8 811.9 L467.8 811.9 L468.8 811.9 L469.8 811.9 L470.8 811.9 L471.8 811.9 L472.8 811.9 L473.8 811.9 L474.8 811.9 L475.8 811.9 L476.8 811.9 L477.8 811.9 L478.8 811.9 L479.8 811.9 L480.8 811.9 L481.8 811.9 L482.8 811.9 L483.8 811.9 L484.8 811.9 L485.8 811.9 L486.8 811.9 L487.8 811.9 L488.8 811.9 L489.8 811.9 L490.8 811.9 L491.8 811.9 L492.8 811.9 L493.8 811.9 L494.8 811.8 L495.8 811.6 L496.8 811.4 L497.8 811.1 L498.8 810.8 L499.8 810.7 L500.8 810.7 L501.8 810.7 L502.8 810.7 L503.0 810.7 L503.2 810.7 L503.4 810.7 L503.6 810.7 L503.8 810.7 L504.0 810.7 L504.2 810.7 L504.4 810.6 L504.6 810.5 L504.8 810.3 L505.0 810.1 L505.2 809.7 L505.4 809.3 L505.6 808.8 L505.8 808.3 L506.0 807.9 L506.2 807.6 L506.4 807.3 L506.6 807.2 L506.8 807.2 L507.0 807.2 L507.2 807.3 L507.4 807.6 L507.6 807.9 L507.8 808.3 L508.0 808.8 L508.2 809.3 L508.4 809.7 L508.6 810.1 L508.8 810.3 L509.0 810.5 L509.2 810.6 L509.4 810.7 L509.6 810.7 L509.8 810.7 L510.0 810.7 L510.2 810.7 L510.4 810.7 L510.6 810.7 L510.8 810.7 L511.0 810.7 L511.2 810.7 L511.4 810.7 L511.6 810.7 L511.8 810.7 L512.0 810.7 L513.0 810.7 L513.2 810.7 L513.4 810.7 L513.6 810.7 L513.8 810.7 L514.0 810.5 L514.2 810.1 L514.4 809.0 L514.6 806.4 L514.8 801.5 L515.0 793.4 L515.2 781.8 L515.4 767.7 L515.6 753.0 L515.8 740.0 L516.0 730.8 L516.2 726.1 L516.4 725.0 L516.6 726.1 L516.8 730.8 L517.0 740.0 L517.2 753.0 L517.4 767.7 L517.6 781.8 L517.8 793.4 L518.0 801.5 L518.2 806.4 L518.4 809.0 L518.6 810.1 L518.8 810.5 L519.0 810.7 L519.2 810.7 L519.4 810.7 L519.6 810.7 L519.8 810.7 L520.0 810.7 L520.2 810.7 L520.4 810.7 L520.6 810.7 L521.6 810.7 L522.6 810.7 L523.6 810.7 L523.8 810.7 L524.0 810.7 L524.2 810.7 L524.4 810.6 L524.6 810.5 L524.8 810.0 L525.0 808.8 L525.2 806.2 L525.4 801.7 L525.6 794.7 L525.8 785.5 L526.0 775.2 L526.2 765.2 L526.4 757.2 L526.6 752.3 L526.8 750.4 L527.0 750.4 L527.2 752.3 L527.4 757.3 L527.6 765.3 L527.8 775.4 L528.0 785.8 L528.2 795.1 L528.4 802.2 L528.6 806.9 L528.8 809.5 L529.0 810.9 L529.2 811.5 L529.4 811.7 L529.6 811.8 L529.8 811.9 L530.0 811.9 L530.2 811.9 L530.4 811.9 L530.6 811.9 L530.8 811.9 L531.0 811.9 L532.0 811.9 L533.0 811.9 L534.0 811.9 L535.0 811.9 L536.0 811.9 L537.0 811.9 L538.0 811.9 L539.0 811.9 L540.0 811.9 L541.0 811.9 L542.0 811.9 L543.0 811.9 L544.0 811.9 L545.0 811.9 L546.0 811.9 L547.0 811.9 L548.0 811.9 L549.0 811.9 L550.0 811.9 L551.0 811.9 L552.0 811.9 L553.0 811.9 L554.0 811.9 L555.0 811.9 L556.0 811.9 L557.0 811.9 L558.0 811.9 L559.0 811.9 L560.0 811.9 L561.0 811.9 L562.0 811.9 L563.0 811.9 L564.0 811.9 L565.0 811.9 L566.0 811.9 L567.0 811.9 L568.0 811.9 L569.0 811.9 L570.0 811.9 L571.0 811.9 L572.0 811.9 L573.0 811.9 L574.0 811.9 L575.0 811.9 L576.0 811.9 L577.0 811.9 L578.0 811.9 L579.0 811.9 L580.0 811.9 L581.0 811.9 L582.0 811.9 L583.0 811.9 L584.0 811.9 L585.0 811.9 L586.0 811.9 L587.0 811.9 L588.0 811.9 L589.0 811.9 L590.0 811.9 L591.0 811.9 L592.0 811.9 L593.0 811.9 L594.0 811.9 L595.0 811.9 L596.0 811.9 L597.0 811.9 L598.0 811.9 L599.0 811.9 L600.0 811.9 L601.0 811.9 L602.0 811.9 L603.0 811.9 L604.0 811.9 L605.0 811.9 L606.0 811.9 L607.0 811.9 L608.0 811.9 L609.0 811.9 L610.0 811.9 L611.0 811.9 L612.0 811.9 L613.0 811.9 L614.0 811.9 L615.0 811.9 L616.0 811.9 L617.0 811.9 L618.0 811.9 L619.0 811.9 L620.0 811.9 L621.0 811.9 L622.0 811.9 L623.0 811.9 L624.0 811.9 L625.0 811.9 L626.0 811.9 L627.0 811.9 L628.0 811.9 L629.0 811.9 L630.0 811.9 L631.0 811.9 L632.0 811.9 L633.0 811.9 L634.0 811.9 L635.0 811.9 L636.0 811.9 L637.0 811.9 L638.0 811.9 L639.0 811.9 L640.0 811.9 L641.0 811.9 L642.0 811.9 L643.0 811.9 L644.0 811.9 L645.0 811.9 L646.0 811.9 L647.0 811.9 L648.0 811.9 L649.0 811.9 L650.0 811.9 L651.0 811.9 L652.0 811.9 L653.0 811.9 L654.0 811.9 L655.0 811.9 L656.0 811.9 L657.0 811.9 L658.0 811.9 L659.0 811.9 L660.0 811.9 L661.0 811.9 L662.0 811.9 L663.0 811.9 L664.0 811.9 L665.0 811.9 L666.0 811.9 L667.0 811.9 L668.0 811.9 L669.0 811.9 L669.2 811.9 L669.4 811.9 L669.6 811.9 L669.8 811.9 L670.0 811.9 L670.2 811.9 L670.4 811.9 L670.6 811.8 L670.8 811.8 L671.0 811.8 L671.2 811.7 L671.4 811.6 L671.6 811.5 L671.8 811.5 L672.0 811.4 L672.2 811.3 L672.4 811.2 L672.6 811.1 L672.8 811.0 L673.0 810.9 L673.2 810.8 L673.4 810.7 L673.6 810.6 L673.8 810.5 L674.0 810.4 L674.2 810.3 L674.4 810.2 L674.6 810.2 L674.8 810.1 L675.0 810.0 L675.2 810.0 L675.4 809.9 L675.6 809.9 L675.8 809.9 L676.0 809.9 L676.2 809.9 L676.4 809.9 L676.6 809.8 L676.8 809.8 L677.0 809.8 L677.2 809.8 L677.4 809.8 L677.6 809.8 L677.8 809.8 L678.0 809.8 L678.2 809.8 L678.4 809.7 L678.6 809.7 L678.8 809.7 L679.0 809.7 L679.2 809.7 L679.4 809.7 L679.6 809.6 L679.8 809.6 L680.0 809.6 L680.2 809.6 L680.4 809.6 L680.6 809.5 L680.8 809.5 L681.0 809.5 L681.2 809.5 L681.4 809.5 L681.6 809.5 L681.8 809.4 L682.0 809.4 L682.2 809.4 L682.4 809.4 L682.6 809.4 L682.8 809.4 L683.0 809.4 L683.2 809.4 L683.4 809.4 L683.6 809.4 L683.8 809.4 L684.0 809.4 L684.2 809.4 L684.4 809.5 L684.6 809.5 L684.8 809.5 L685.0 809.5 L685.2 809.5 L685.4 809.5 L685.6 809.6 L685.8 809.6 L686.0 809.6 L686.2 809.6 L686.4 809.6 L686.6 809.7 L686.8 809.7 L687.0 809.7 L687.2 809.6 L687.4 809.5 L687.6 808.9 L687.8 807.6 L688.0 804.7 L688.2 799.6 L688.4 791.7 L688.6 781.4 L688.8 769.6 L689.0 758.4 L689.2 749.4 L689.4 743.8 L689.6 741.7 L689.8 741.7 L690.0 743.9 L690.2 749.4 L690.4 758.4 L690.6 769.7 L690.8 781.4 L691.0 791.8 L691.2 799.7 L691.4 804.8 L691.6 807.7 L691.8 809.1 L692.0 809.6 L692.2 809.8 L692.4 809.9 L692.6 809.9 L692.8 809.9 L693.0 809.9 L693.2 809.9 L693.4 809.9 L693.6 809.9 L693.8 809.9 L694.0 809.9 L694.2 809.9 L694.4 809.9 L694.6 809.9 L694.8 809.9 L695.0 809.9 L695.2 809.9 L695.4 809.9 L695.6 809.9 L695.8 809.9 L696.0 809.8 L696.2 809.8 L696.4 809.8 L696.6 809.7 L696.8 809.6 L697.0 809.5 L697.2 809.4 L697.4 809.2 L697.6 809.1 L697.8 808.9 L698.0 808.7 L698.2 808.5 L698.4 808.4 L698.6 808.2 L698.8 808.2 L699.0 808.1 L699.2 808.1 L699.4 808.2 L699.6 808.2 L699.8 808.4 L700.0 808.5 L700.2 808.7 L700.4 808.9 L700.6 809.1 L700.8 809.2 L701.0 809.4 L701.2 809.5 L701.4 809.6 L701.6 809.7 L701.8 809.8 L702.0 809.8 L702.2 809.8 L702.4 809.9 L702.6 809.9 L702.8 809.9 L703.0 809.9 L703.2 809.9 L703.4 809.9 L703.6 809.9 L703.8 809.9 L704.0 809.9 L704.2 809.9 L704.4 809.9 L704.6 809.9 L704.8 809.9 L705.0 809.9 L705.2 809.9 L706.2 809.9 L706.4 809.9 L706.6 809.9 L706.8 809.9 L707.0 809.7 L707.2 809.3 L707.4 808.3 L707.6 805.8 L707.8 801.2 L708.0 793.4 L708.2 782.5 L708.4 769.0 L708.6 755.0 L708.8 742.7 L709.0 733.9 L709.2 729.4 L709.4 728.5 L709.6 729.6 L709.8 734.2 L710.0 743.2 L710.2 755.7 L710.4 769.9 L710.6 783.6 L710.8 794.7 L711.0 802.7 L711.2 807.5 L711.4 810.0 L711.6 811.2 L711.8 811.7 L712.0 811.9 L712.2 811.9 L712.4 811.9 L712.6 811.9 L712.8 811.9 L713.0 811.9 L713.2 811.9 L713.4 811.9 L714.4 811.9 L715.4 811.9 L716.4 811.9 L717.4 811.9 L718.4 811.9 L719.4 811.9 L720.4 811.9 L721.4 811.9 L722.4 811.9 L723.4 811.9 L724.4 811.9 L725.4 811.9 L726.4 811.9 L727.4 811.9 L728.4 811.9 L729.4 811.9 L730.4 811.9 L731.4 811.9 L732.4 811.9 L733.4 811.9 L734.4 811.9 L735.4 811.9 L736.4 811.9 L737.4 811.9 L738.4 811.9 L739.4 811.9 L740.4 811.9 L741.4 811.9 L742.4 811.9 L743.4 811.9 L744.4 811.9 L745.4 811.9 L746.4 811.9 L747.4 811.9 L748.4 811.9 L749.4 811.9 L750.4 811.9 L751.4 811.9 L752.4 811.9 L753.4 811.9 L754.4 811.9 L755.4 811.9 L756.4 811.9 L757.4 811.9 L758.4 811.9 L759.4 811.9 L760.4 811.9 L761.4 811.9 L762.4 811.9 L763.4 811.9 L764.4 811.9 L765.4 811.9 L766.4 811.9 L767.4 811.9 L768.4 811.9 L769.4 811.9 L770.4 811.9 L771.4 811.9 L772.4 811.9 L773.4 811.9 L774.4 811.9 L775.4 811.9 L776.4 811.9 L777.4 811.9 L778.4 811.9 L779.4 811.9 L780.4 811.9 L781.4 811.9 L782.4 811.9 L783.4 811.9 L784.4 811.9 L785.4 811.9 L786.4 811.9 L787.4 811.9 L788.4 811.9 L789.4 811.9 L790.4 811.9 L791.4 811.9 L792.4 811.9 L793.4 811.9 L794.4 811.9 L795.4 811.9 L796.4 811.9 L797.4 811.9 L798.4 811.9 L799.4 811.9 L800.4 811.9 L800.6 811.9 L800.8 811.9 L801.0 811.9 L801.2 811.9 L801.4 811.9 L801.6 811.9 L801.8 811.9 L802.0 811.9 L802.2 811.9 L802.4 811.9 L802.6 811.9 L802.8 811.9 L803.0 811.9 L803.2 811.9 L803.4 811.9 L803.6 811.9 L803.8 811.9 L804.0 811.9 L804.2 811.9 L804.4 811.9 L804.6 811.9 L804.8 811.9 L805.0 811.9 L805.2 811.9 L805.4 811.9 L805.6 811.9 L805.8 811.9 L806.0 811.9 L806.2 811.9 L806.4 811.9 L806.6 811.9 L806.8 811.9 L807.0 811.8 L807.2 811.8 L807.4 811.8 L807.6 811.8 L807.8 811.8 L808.0 811.8 L808.2 811.7 L808.4 811.7 L808.6 811.7 L808.8 811.7 L809.0 811.6 L809.2 811.6 L809.4 811.5 L809.6 811.5 L809.8 811.5 L810.0 811.4 L810.2 811.3 L810.4 811.3 L810.6 811.2 L810.8 811.1 L811.0 811.1 L811.2 811.0 L811.4 810.9 L811.6 810.8 L811.8 810.8 L812.0 810.7 L812.2 810.6 L812.4 810.5 L812.6 810.4 L812.8 810.4 L813.0 810.3 L813.2 810.2 L813.4 810.2 L813.6 810.1 L813.8 810.1 L814.0 810.0 L814.2 810.0 L814.4 809.9 L814.6 809.9 L814.8 809.9 L815.0 809.9 L815.2 809.9 L815.4 809.9 L815.6 809.9 L815.8 810.0 L816.0 810.0 L816.2 810.1 L816.4 810.1 L816.6 810.2 L816.8 810.2 L817.0 810.3 L817.2 810.4 L817.4 810.4 L817.6 810.5 L817.8 810.6 L818.0 810.7 L818.2 810.8 L818.4 810.8 L818.6 810.9 L818.8 811.0 L819.0 810.9 L819.2 810.7 L819.4 810.0 L819.6 808.2 L819.8 804.7 L820.0 799.0 L820.2 790.7 L820.4 780.6 L820.6 770.1 L820.8 760.8 L821.0 754.2 L821.2 750.8 L821.4 750.1 L821.6 750.9 L821.8 754.3 L822.0 761.0 L822.2 770.3 L822.4 780.9 L822.6 791.1 L822.8 799.4 L823.0 805.2 L823.2 808.8 L823.4 810.6 L823.6 811.4 L823.8 811.7 L824.0 811.8 L824.2 811.9 L824.4 811.9 L824.6 811.9 L824.8 811.9 L825.0 811.9 L825.2 811.9 L825.4 811.9 L825.6 811.9 L825.8 811.9 L826.0 811.9 L826.2 811.9 L826.4 811.9 L826.6 811.9 L826.8 811.9 L827.0 811.9 L827.2 811.9 L827.4 811.9 L827.6 811.9 L827.8 811.9 L828.0 811.9 L828.2 811.9 L828.4 811.9 L828.6 811.9 L828.8 811.9 L829.0 811.9 L829.2 811.9 L829.4 811.9 L829.6 811.9 L829.8 811.8 L830.0 811.8 L831.0 811.6 L832.0 811.3 L833.0 811.0 L834.0 810.8 L835.0 810.7 L836.0 810.7 L836.2 810.7 L836.4 810.7 L836.6 810.7 L836.8 810.7 L837.0 810.7 L837.2 810.7 L837.4 810.7 L837.6 810.7 L837.8 810.7 L838.0 810.7 L838.2 810.7 L838.4 810.7 L838.6 810.6 L838.8 810.6 L839.0 810.5 L839.2 810.5 L839.4 810.4 L839.6 810.3 L839.8 810.2 L840.0 810.0 L840.2 809.8 L840.4 809.6 L840.6 809.5 L840.8 809.3 L841.0 809.1 L841.2 809.0 L841.4 808.9 L841.6 808.8 L841.8 808.8 L842.0 808.9 L842.2 809.0 L842.4 809.1 L842.6 809.3 L842.8 809.5 L843.0 809.6 L843.2 809.8 L843.4 810.0 L843.6 810.2 L843.8 810.3 L844.0 810.4 L844.2 810.5 L844.4 810.5 L844.6 810.6 L844.8 810.6 L845.0 810.7 L845.2 810.7 L845.4 810.7 L845.6 810.7 L845.8 810.7 L846.0 810.7 L846.2 810.7 L846.4 810.7 L846.6 810.7 L846.8 810.7 L847.0 810.7 L847.2 810.7 L847.4 810.7 L847.6 810.7 L847.8 810.7 L848.8 810.7 L849.0 810.7 L849.2 810.7 L849.4 810.7 L849.6 810.6 L849.8 810.2 L850.0 809.4 L850.2 807.4 L850.4 803.7 L850.6 797.4 L850.8 788.5 L851.0 777.7 L851.2 766.4 L851.4 756.4 L851.6 749.3 L851.8 745.7 L852.0 744.9 L852.2 745.7 L852.4 749.4 L852.6 756.5 L852.8 766.6 L853.0 778.0 L853.2 789.0 L853.4 798.0 L853.6 804.3 L853.8 808.2 L854.0 810.3 L854.2 811.2 L854.4 811.6 L854.6 811.8 L854.8 811.9 L855.0 811.9 L855.2 811.9 L855.4 811.9 L855.6 811.9 L855.8 811.9 L856.0 811.9 L857.0 811.9 L858.0 811.9 L859.0 811.9 L860.0 811.9 L861.0 811.9 L862.0 811.9 L863.0 811.9 L864.0 811.9 L865.0 811.9 L866.0 811.9 L867.0 811.9 L868.0 811.9 L869.0 811.9 L870.0 811.9 L871.0 811.9 L872.0 811.9 L873.0 811.9 L874.0 811.9 L875.0 811.9 L876.0 811.9 L877.0 811.9 L878.0 811.9 L879.0 811.9 L880.0 811.9 L881.0 811.9 L882.0 811.9 L883.0 811.9 L884.0 811.9 L885.0 811.9 L886.0 811.9 L887.0 811.9 L888.0 811.9 L889.0 811.9 L890.0 811.9 L891.0 811.9 L892.0 811.9 L893.0 811.9 L894.0 811.9 L895.0 811.9 L896.0 811.9 L897.0 811.9 L898.0 811.9 L899.0 811.9 L900.0 811.9 L901.0 811.9 L902.0 811.9 L903.0 811.9 L904.0 811.9 L905.0 811.9 L906.0 811.9 L907.0 811.9 L908.0 811.9 L909.0 811.9 L910.0 811.9 L911.0 811.9 L912.0 811.9 L913.0 811.9 L914.0 811.9 L915.0 811.9 L916.0 811.9 L917.0 811.9 L918.0 811.9 L919.0 811.9 L920.0 811.9 L921.0 811.9 L922.0 811.9 L923.0 811.9 L924.0 811.9 L925.0 811.9 L926.0 811.9 L927.0 811.9 L928.0 811.9 L929.0 811.9 L930.0 811.9 L931.0 811.9 L932.0 811.9 L933.0 811.9 L934.0 811.9 L935.0 811.9 L936.0 811.9 L937.0 811.9 L938.0 811.9 L939.0 811.9 L940.0 811.9 L941.0 811.9 L942.0 811.9 L943.0 811.9 L944.0 811.9 L945.0 811.9 L946.0 811.9 L947.0 811.9 L948.0 811.9 L949.0 811.9 L950.0 811.9 L951.0 811.9 L952.0 811.9 L953.0 811.9 L954.0 811.9 L955.0 811.9 L956.0 811.9 L957.0 811.9 L958.0 811.9 L959.0 811.9 L960.0 811.9 L961.0 811.9 L962.0 811.9 L963.0 811.9 L964.0 811.9 L965.0 811.9 L966.0 811.9 L967.0 811.9 L968.0 811.9 L969.0 811.9 L970.0 811.9 L971.0 811.9 L972.0 811.9 L973.0 811.9 L974.0 811.9 L975.0 811.9 L976.0 811.9 L977.0 811.9 L978.0 811.9 L979.0 811.9 L980.0 811.9 L981.0 811.9 L982.0 811.9 L983.0 811.9 L984.0 811.9 L985.0 811.9 L985.2 811.9 L985.4 811.9 L985.6 811.9 L985.8 811.9 L986.0 811.9 L986.2 811.9 L986.4 811.9 L986.6 811.8 L986.8 811.5 L987.0 811.0 L987.2 809.9 L987.4 807.9 L987.6 804.9 L987.8 800.7 L988.0 795.5 L988.2 789.8 L988.4 784.3 L988.6 779.8 L988.8 776.8 L989.0 775.2 L989.2 774.9 L989.4 775.2 L989.6 776.8 L989.8 779.8 L990.0 784.3 L990.2 789.8 L990.4 795.5 L990.6 800.7 L990.8 804.9 L991.0 807.9 L991.2 809.9 L991.4 811.0 L991.6 811.5 L991.8 811.8 L992.0 811.9 L992.2 811.9 L992.4 811.9 L992.6 811.9 L992.8 811.9 L993.0 811.9 L993.2 811.9 L993.4 811.9 L993.6 811.9 L993.8 811.9 L994.8 811.9 L995.8 811.9 L996.8 811.9 L997.8 811.9 L998.8 811.9 L999.8 811.9 L1000.8 811.9 L1001.8 811.9 L1002.8 811.9 L1003.8 811.9 L1004.8 811.9 L1005.0 811.9 L1005.2 811.9 L1005.4 811.9 L1005.6 811.9 L1005.8 811.9 L1006.0 811.9 L1006.2 811.8 L1006.4 811.7 L1006.6 811.3 L1006.8 810.3 L1007.0 808.1 L1007.2 804.1 L1007.4 797.3 L1007.6 787.4 L1007.8 774.3 L1008.0 759.2 L1008.2 743.7 L1008.4 729.9 L1008.6 719.5 L1008.8 713.2 L1009.0 710.9 L1009.2 710.9 L1009.4 713.2 L1009.6 719.5 L1009.8 729.9 L1010.0 743.7 L1010.2 759.2 L1010.4 774.3 L1010.6 787.4 L1010.8 797.3 L1011.0 804.1 L1011.2 808.1 L1011.4 810.3 L1011.6 811.3 L1011.8 811.7 L1012.0 811.8 L1012.2 811.9 L1012.4 811.9 L1012.6 811.9 L1012.8 811.9 L1013.0 811.9 L1013.2 811.9 L1013.4 811.9 L1013.6 811.9 L1014.6 811.9 L1015.6 811.9 L1016.6 811.9 L1017.6 811.9 L1018.6 811.9 L1019.6 811.9 L1020.6 811.9 L1021.6 811.9 L1022.6 811.9 L1023.6 811.9 L1024.6 811.9 L1025.6 811.9 L1026.6 811.9 L1027.6 811.9 L1028.6 811.9 L1029.6 811.9 L1030.6 811.9 L1031.6 811.9 L1032.6 811.9 L1033.6 811.9 L1034.6 811.9 L1035.6 811.9 L1036.6 811.9 L1037.6 811.9 L1038.6 811.9 L1039.6 811.9 L1040.6 811.9 L1040.8 811.9 L1041.0 811.9 L1041.2 811.9 L1041.4 811.9 L1041.6 811.9 L1041.8 811.9 L1042.0 811.9 L1042.2 811.9 L1042.4 811.9 L1042.6 811.9 L1042.8 811.9 L1043.0 811.9 L1043.2 811.9 L1043.4 811.9 L1043.6 811.9 L1043.8 811.9 L1044.0 811.9 L1044.2 811.9 L1044.4 811.9 L1044.6 811.9 L1044.8 811.9 L1045.0 811.9 L1045.2 811.9 L1045.4 811.9 L1045.6 811.9 L1045.8 811.9 L1046.0 811.9 L1046.2 811.9 L1046.4 811.9 L1046.6 811.9 L1046.8 811.9 L1047.0 811.9 L1047.2 811.9 L1047.4 811.9 L1047.6 811.9 L1047.8 811.9 L1048.0 811.9 L1048.2 811.9 L1048.4 811.9 L1048.6 811.9 L1048.8 811.9 L1049.0 811.9 L1049.2 811.9 L1049.4 811.9 L1049.6 811.9 L1049.8 811.9 L1050.0 811.9 L1050.2 811.9 L1050.4 811.9 L1050.6 811.9 L1050.8 811.9 L1051.0 811.9 L1051.2 811.9 L1051.4 811.9 L1051.6 811.9 L1051.8 811.8 L1052.0 811.8 L1052.2 811.8 L1052.4 811.8 L1052.6 811.8 L1052.8 811.8 L1053.0 811.8 L1053.2 811.8 L1053.4 811.8 L1053.6 811.8 L1053.8 811.8 L1054.0 811.7 L1054.2 811.7 L1054.4 811.7 L1054.6 811.7 L1054.8 811.7 L1055.0 811.7 L1055.2 811.7 L1055.4 811.6 L1055.6 811.6 L1055.8 811.6 L1056.0 811.6 L1056.2 811.5 L1056.4 811.5 L1056.6 811.5 L1056.8 811.5 L1057.0 811.4 L1057.2 811.4 L1057.4 811.4 L1057.6 811.4 L1057.8 811.3 L1058.0 811.3 L1058.2 811.3 L1058.4 811.2 L1058.6 811.2 L1058.8 811.2 L1059.0 811.1 L1059.2 811.1 L1059.4 811.0 L1059.6 811.0 L1059.8 811.0 L1060.0 810.9 L1060.2 810.9 L1060.4 810.9 L1060.6 810.8 L1060.8 810.8 L1061.0 810.8 L1061.2 810.7 L1061.4 810.7 L1061.6 810.7 L1061.8 810.6 L1062.0 810.6 L1062.2 810.6 L1062.4 810.6 L1062.6 810.5 L1062.8 810.5 L1063.0 810.5 L1063.2 810.5 L1063.4 810.4 L1063.6 810.4 L1063.8 810.4 L1064.0 810.4 L1064.2 810.4 L1064.4 810.4 L1064.6 810.4 L1064.8 810.4 L1065.0 810.4 L1065.2 810.4 L1065.4 810.4 L1065.6 810.4 L1065.8 810.4 L1066.0 810.4 L1066.2 810.5 L1066.4 810.5 L1066.6 810.5 L1066.8 810.5 L1067.0 810.6 L1067.2 810.6 L1067.4 810.6 L1067.6 810.6 L1067.8 810.7 L1068.0 810.7 L1068.2 810.7 L1068.4 810.8 L1068.6 810.8 L1068.8 810.8 L1069.0 810.9 L1069.2 810.9 L1069.4 810.9 L1069.6 811.0 L1069.8 811.0 L1070.0 811.0 L1070.2 811.1 L1070.4 811.1 L1070.6 811.2 L1070.8 811.2 L1071.0 811.2 L1071.2 811.3 L1071.4 811.3 L1071.6 811.3 L1071.8 811.4 L1072.0 811.4 L1072.2 811.4 L1072.4 811.4 L1072.6 811.5 L1072.8 811.5 L1073.0 811.5 L1073.2 811.5 L1073.4 811.6 L1073.6 811.6 L1073.8 811.6 L1074.0 811.6 L1074.2 811.7 L1074.4 811.7 L1074.6 811.7 L1074.8 811.7 L1075.0 811.7 L1075.2 811.7 L1075.4 811.7 L1075.6 811.8 L1075.8 811.8 L1076.0 811.8 L1076.2 811.8 L1076.4 811.8 L1076.6 811.8 L1076.8 811.8 L1077.0 811.8 L1077.2 811.8 L1077.4 811.8 L1077.6 811.8 L1077.8 811.9 L1078.0 811.9 L1078.2 811.9 L1078.4 811.9 L1078.6 811.9 L1078.8 811.9 L1079.0 811.9 L1079.2 811.9 L1079.4 811.9 L1079.6 811.9 L1079.8 811.9 L1080.0 811.9 L1080.2 811.9 L1080.4 811.9 L1080.6 811.9 L1080.8 811.9 L1081.0 811.9 L1081.2 811.9 L1081.4 811.9 L1081.6 811.9 L1081.8 811.9 L1082.0 811.9 L1082.2 811.9 L1082.4 811.9 L1082.6 811.9 L1082.8 811.9 L1083.0 811.9 L1083.2 811.9 L1083.4 811.9 L1083.6 811.9 L1083.8 811.9 L1084.0 811.9 L1084.2 811.9 L1084.4 811.9 L1084.6 811.9 L1084.8 811.9 L1085.0 811.9 L1085.2 811.9 L1085.4 811.9 L1085.6 811.9 L1085.8 811.9 L1086.0 811.9 L1086.2 811.9 L1086.4 811.9 L1086.6 811.9 L1086.8 811.9 L1087.0 811.9 L1087.2 811.9 L1087.4 811.9 L1087.6 811.9 L1087.8 811.9 L1088.0 811.9 L1088.2 811.9 L1088.4 811.9 L1088.6 811.9 L1088.8 811.9 L1089.0 811.9 L1089.2 811.9 L1089.4 811.9 L1089.6 811.9 L1089.8 811.9 L1090.8 811.9 L1091.8 811.9 L1092.8 811.9 L1093.8 811.9 L1094.8 811.9 L1095.8 811.9 L1096.8 811.9 L1097.8 811.9 L1098.8 811.9 L1099.8 811.9 L1100.8 811.9 L1101.8 811.9 L1102.8 811.9 L1103.8 811.9 L1104.8 811.9 L1105.8 811.7 L1106.8 811.4 L1107.8 811.2 L1108.8 811.0 L1109.8 810.9 L1110.0 810.9 L1110.2 810.9 L1110.4 810.9 L1110.6 810.9 L1110.8 810.9 L1111.0 810.9 L1111.2 810.9 L1111.4 810.9 L1111.6 810.9 L1111.8 810.9 L1112.0 810.9 L1112.2 810.9 L1112.4 810.9 L1112.6 810.9 L1112.8 810.9 L1113.0 810.9 L1113.2 810.8 L1113.4 810.8 L1113.6 810.8 L1113.8 810.7 L1114.0 810.7 L1114.2 810.6 L1114.4 810.5 L1114.6 810.5 L1114.8 810.3 L1115.0 810.2 L1115.2 810.1 L1115.4 809.9 L1115.6 809.8 L1115.8 809.6 L1116.0 809.4 L1116.2 809.3 L1116.4 809.2 L1116.6 809.1 L1116.8 809.0 L1117.0 808.9 L1117.2 808.9 L1117.4 808.9 L1117.6 809.0 L1117.8 809.1 L1118.0 809.2 L1118.2 809.3 L1118.4 809.4 L1118.6 809.6 L1118.8 809.8 L1119.0 809.9 L1119.2 810.1 L1119.4 810.2 L1119.6 810.3 L1119.8 810.5 L1120.0 810.5 L1120.2 810.6 L1120.4 810.7 L1120.6 810.7 L1120.8 810.8 L1121.0 810.8 L1121.2 810.8 L1121.4 810.9 L1121.6 810.9 L1121.8 810.9 L1122.0 810.9 L1122.2 810.9 L1122.4 810.9 L1122.6 810.9 L1122.8 810.9 L1123.0 810.9 L1123.2 810.9 L1123.4 810.9 L1123.6 810.9 L1123.8 810.9 L1124.0 810.9 L1124.2 810.9 L1124.4 810.9 L1124.6 810.9 L1124.8 810.9 L1125.0 810.8 L1125.2 810.5 L1125.4 809.8 L1125.6 808.4 L1125.8 805.8 L1126.0 801.4 L1126.2 794.9 L1126.4 786.3 L1126.6 776.5 L1126.8 766.3 L1127.0 757.3 L1127.2 750.5 L1127.4 746.5 L1127.6 745.0 L1127.8 745.0 L1128.0 746.7 L1128.2 750.9 L1128.4 757.8 L1128.6 766.9 L1128.8 777.1 L1129.0 787.1 L1129.2 795.7 L1129.4 802.3 L1129.6 806.7 L1129.8 809.4 L1130.0 810.8 L1130.2 811.5 L1130.4 811.8 L1130.6 811.9 L1130.8 811.9 L1131.0 811.9 L1131.2 811.9 L1131.4 811.9 L1131.6 811.9 L1131.8 811.9 L1132.0 811.9 L1132.2 811.9 L1133.2 811.9 L1134.2 811.9 L1135.2 811.9 L1136.2 811.9 L1137.2 811.9 L1138.2 811.9 L1139.2 811.9 L1140.2 811.9 L1141.2 811.9 L1142.2 811.9 L1143.2 811.9 L1144.2 811.9 L1145.2 811.9 L1146.2 811.9 L1147.2 811.9 L1148.2 811.9 L1149.2 811.9 L1150.2 811.9 L1151.2 811.9 L1152.2 811.9 L1153.2 811.9 L1154.2 811.9 L1155.2 811.9 L1156.2 811.9 L1157.2 811.9 L1158.2 811.9 L1159.2 811.9 L1160.2 811.9 L1161.2 811.9 L1162.2 811.9 L1163.2 811.9 L1164.2 811.9 L1165.2 811.9 L1166.2 811.9 L1167.2 811.9 L1168.2 811.9 L1169.2 811.9 L1170.2 811.9 L1171.2 811.9 L1172.2 811.9 L1173.2 811.9 L1174.2 811.9 L1175.2 811.9 L1176.2 811.9 L1177.2 811.9 L1178.2 811.9 L1179.2 811.9 L1180.2 811.9 L1181.2 811.9 L1182.2 811.9 L1183.2 811.9 L1184.2 811.9 L1185.2 811.9 L1186.2 811.9 L1187.2 811.9 L1188.2 811.9 L1189.2 811.9 L1190.2 811.9 L1191.2 811.9 L1192.2 811.9 L1193.2 811.9 L1194.2 811.9 L1195.2 811.9 L1196.2 811.9 L1197.2 811.9 L1198.2 811.9 L1199.2 811.9 L1200.2 811.9 L1201.2 811.9 L1202.2 811.9 L1203.2 811.9 L1204.2 811.9 L1205.2 811.9 L1206.2 811.9 L1207.2 811.9 L1208.2 811.9 L1209.2 811.9 L1210.2 811.9 L1211.2 811.9 L1212.2 811.9 L1213.2 811.9 L1214.2 811.9 L1215.2 811.9 L1216.2 811.9" stroke="#000000" stroke-width="1.8" fill="none" stroke-linejoin="round"/><rect x="133.00" y="656.90" width="1085.80" height="158.80" fill="none" stroke="#b0b0b0" stroke-width="3.5"/><path d="M167.75 650.00V663.80M268.00 650.00V663.80M367.50 650.00V663.80M467.50 650.00V663.80M567.50 650.00V663.80M667.50 650.00V663.80M768.00 650.00V663.80M866.75 650.00V663.80M966.50 650.00V663.80M1066.00 650.00V663.80M1165.80 650.00V663.80M126.1 683.66H140.1M126.1 710.70H140.1M126.1 735.70H140.1M126.1 760.60H140.1M126.1 787.70H140.1" stroke="#b0b0b0" stroke-width="3" fill="none"/></g>
<g><rect x="147.95" y="838.85" width="146.30" height="36.70" fill="#f1f1f1" stroke="#111" stroke-width="1.85"/><rect x="294.35" y="838.85" width="153.40" height="36.70" fill="#f1f1f1" stroke="#111" stroke-width="1.85"/><rect x="447.85" y="838.85" width="166.65" height="36.70" fill="#f1f1f1" stroke="#111" stroke-width="1.85"/><rect x="620.65" y="838.85" width="388.60" height="36.70" fill="#f1f1f1" stroke="#111" stroke-width="1.85"/><rect x="1016.75" y="838.85" width="128.50" height="36.70" fill="#f1f1f1" stroke="#111" stroke-width="1.85"/><text x="220.70" y="868.90" font-size="30" text-anchor="middle" textLength="108.33">D8S1179</text><text x="370.80" y="868.90" font-size="30" text-anchor="middle" textLength="107.53">D12S391</text><text x="531.35" y="868.90" font-size="30" text-anchor="middle" textLength="107.83">D19S433</text><text x="814.33" y="868.90" font-size="30" text-anchor="middle" textLength="50.30">FGA</text><text x="1080.50" y="868.90" font-size="30" text-anchor="middle" textLength="122.75">D22S1045</text><text x="169.15" y="904.85" font-size="32" text-anchor="middle" textLength="32.29">80</text><text x="367.12" y="904.85" font-size="32" text-anchor="middle" textLength="48.84">160</text><text x="567.00" y="904.85" font-size="32" text-anchor="middle" textLength="48.59">240</text><text x="766.50" y="904.85" font-size="32" text-anchor="middle" textLength="48.59">320</text><text x="966.20" y="904.85" font-size="32" text-anchor="middle" textLength="47.59">400</text><text x="1165.95" y="904.85" font-size="32" text-anchor="middle" textLength="48.29">480</text><text x="87.85" y="928.65" font-size="32" text-anchor="middle" textLength="66.58">1,200</text><text x="96.95" y="978.95" font-size="32" text-anchor="middle" textLength="48.29">800</text><text x="97.15" y="1029.05" font-size="32" text-anchor="middle" textLength="47.69">400</text><text x="113.15" y="1079.35" font-size="32" text-anchor="middle" textLength="16.10">0</text><path d="M135.0 1071.7 L136.0 1071.7 L137.0 1071.7 L138.0 1071.7 L139.0 1071.7 L140.0 1071.7 L141.0 1071.7 L142.0 1071.7 L143.0 1071.7 L144.0 1071.7 L145.0 1071.7 L146.0 1071.7 L147.0 1071.7 L148.0 1071.7 L149.0 1071.7 L150.0 1071.7 L151.0 1071.7 L152.0 1071.7 L153.0 1071.7 L154.0 1071.7 L155.0 1071.7 L156.0 1071.7 L157.0 1071.7 L158.0 1071.7 L159.0 1071.7 L160.0 1071.7 L161.0 1071.7 L162.0 1071.7 L163.0 1071.7 L164.0 1071.7 L165.0 1071.7 L166.0 1071.7 L167.0 1071.7 L168.0 1071.7 L169.0 1071.7 L170.0 1071.7 L171.0 1071.7 L172.0 1071.7 L173.0 1071.7 L174.0 1071.7 L175.0 1071.7 L176.0 1071.7 L177.0 1071.7 L178.0 1071.7 L179.0 1071.7 L180.0 1071.7 L181.0 1071.7 L182.0 1071.7 L183.0 1071.7 L184.0 1071.7 L185.0 1071.7 L186.0 1071.7 L187.0 1071.7 L188.0 1071.7 L189.0 1071.7 L190.0 1071.6 L191.0 1071.3 L192.0 1071.0 L193.0 1070.6 L194.0 1070.3 L195.0 1070.2 L196.0 1070.2 L196.2 1070.2 L196.4 1070.2 L196.6 1070.2 L196.8 1070.2 L197.0 1070.2 L197.2 1070.2 L197.4 1070.2 L197.6 1070.2 L197.8 1070.2 L198.0 1070.2 L198.2 1070.1 L198.4 1070.1 L198.6 1070.0 L198.8 1070.0 L199.0 1069.9 L199.2 1069.7 L199.4 1069.6 L199.6 1069.4 L199.8 1069.1 L200.0 1068.9 L200.2 1068.6 L200.4 1068.3 L200.6 1068.0 L200.8 1067.8 L201.0 1067.5 L201.2 1067.4 L201.4 1067.3 L201.6 1067.3 L201.8 1067.4 L202.0 1067.5 L202.2 1067.8 L202.4 1068.0 L202.6 1068.3 L202.8 1068.6 L203.0 1068.9 L203.2 1069.1 L203.4 1069.4 L203.6 1069.6 L203.8 1069.7 L204.0 1069.9 L204.2 1070.0 L204.4 1070.0 L204.6 1070.1 L204.8 1070.1 L205.0 1070.2 L205.2 1070.2 L205.4 1070.2 L205.6 1070.2 L205.8 1070.2 L206.0 1070.2 L206.2 1070.2 L206.4 1070.2 L206.6 1070.2 L206.8 1070.2 L207.0 1070.2 L207.2 1070.2 L207.4 1070.2 L207.6 1070.2 L208.6 1070.2 L208.8 1070.1 L209.0 1069.9 L209.2 1069.6 L209.4 1068.9 L209.6 1067.7 L209.8 1065.5 L210.0 1062.1 L210.2 1057.0 L210.4 1050.3 L210.6 1041.9 L210.8 1032.5 L211.0 1023.0 L211.2 1014.4 L211.4 1007.8 L211.6 1003.9 L211.8 1002.8 L212.0 1003.9 L212.2 1007.8 L212.4 1014.4 L212.6 1023.0 L212.8 1032.5 L213.0 1041.9 L213.2 1050.3 L213.4 1057.0 L213.6 1062.1 L213.8 1065.5 L214.0 1067.7 L214.2 1068.9 L214.4 1069.6 L214.6 1069.9 L214.8 1070.1 L215.0 1070.2 L215.2 1070.2 L215.4 1070.2 L215.6 1070.2 L215.8 1070.2 L216.0 1070.2 L217.0 1070.2 L218.0 1070.2 L218.2 1070.2 L218.4 1070.2 L218.6 1070.1 L218.8 1069.9 L219.0 1069.5 L219.2 1068.7 L219.4 1067.2 L219.6 1064.6 L219.8 1060.6 L220.0 1054.6 L220.2 1046.5 L220.4 1036.6 L220.6 1025.4 L220.8 1014.1 L221.0 1003.9 L221.2 996.1 L221.4 991.4 L221.6 990.1 L221.8 991.4 L222.0 996.1 L222.2 1003.9 L222.4 1014.1 L222.6 1025.6 L222.8 1036.8 L223.0 1046.9 L223.2 1055.1 L223.4 1061.2 L223.6 1065.5 L223.8 1068.2 L224.0 1069.8 L224.2 1070.7 L224.4 1071.2 L224.6 1071.5 L224.8 1071.6 L225.0 1071.7 L225.2 1071.7 L225.4 1071.7 L225.6 1071.7 L225.8 1071.7 L226.8 1071.7 L227.8 1071.7 L228.8 1071.7 L229.8 1071.7 L230.8 1071.7 L231.8 1071.7 L232.8 1071.7 L233.8 1071.7 L234.8 1071.7 L235.8 1071.7 L236.8 1071.7 L237.8 1071.7 L238.8 1071.7 L239.8 1071.7 L240.8 1071.7 L241.8 1071.7 L242.8 1071.7 L243.8 1071.7 L244.8 1071.7 L245.8 1071.7 L246.8 1071.7 L247.8 1071.7 L248.8 1071.7 L249.8 1071.7 L250.8 1071.7 L251.8 1071.7 L252.8 1071.7 L253.8 1071.7 L254.8 1071.7 L255.8 1071.7 L256.8 1071.7 L257.8 1071.7 L258.8 1071.7 L259.8 1071.7 L260.8 1071.7 L261.8 1071.7 L262.8 1071.7 L263.8 1071.7 L264.8 1071.7 L265.8 1071.7 L266.8 1071.7 L267.8 1071.7 L268.8 1071.7 L269.8 1071.7 L270.8 1071.7 L271.8 1071.7 L272.8 1071.7 L273.8 1071.7 L274.8 1071.7 L275.8 1071.7 L276.8 1071.7 L277.8 1071.7 L278.8 1071.7 L279.8 1071.7 L280.8 1071.7 L281.8 1071.7 L282.8 1071.7 L283.8 1071.7 L284.8 1071.7 L285.8 1071.7 L286.8 1071.7 L287.8 1071.7 L288.8 1071.7 L289.8 1071.7 L290.8 1071.7 L291.8 1071.7 L292.8 1071.7 L293.8 1071.7 L294.8 1071.7 L295.8 1071.7 L296.8 1071.7 L297.8 1071.7 L298.8 1071.7 L299.8 1071.7 L300.8 1071.7 L301.8 1071.7 L302.8 1071.7 L303.8 1071.7 L304.8 1071.7 L305.8 1071.7 L306.8 1071.7 L307.8 1071.7 L308.8 1071.7 L309.8 1071.7 L310.8 1071.7 L311.8 1071.7 L312.8 1071.7 L313.8 1071.7 L314.8 1071.7 L315.8 1071.7 L316.8 1071.7 L317.8 1071.7 L318.8 1071.7 L319.8 1071.7 L320.8 1071.7 L321.8 1071.7 L322.8 1071.7 L323.8 1071.7 L324.8 1071.7 L325.8 1071.7 L326.8 1071.7 L327.8 1071.7 L328.8 1071.7 L329.8 1071.7 L330.8 1071.7 L331.8 1071.7 L332.8 1071.7 L333.8 1071.7 L334.8 1071.7 L335.8 1071.7 L336.8 1071.7 L337.8 1071.7 L338.8 1071.7 L339.8 1071.7 L340.8 1071.7 L341.8 1071.7 L342.8 1071.7 L343.8 1071.7 L344.8 1071.7 L345.0 1071.7 L345.2 1071.7 L345.4 1071.7 L345.6 1071.7 L345.8 1071.6 L346.0 1071.6 L346.2 1071.5 L346.4 1071.3 L346.6 1071.1 L346.8 1070.7 L347.0 1070.2 L347.2 1069.6 L347.4 1068.8 L347.6 1067.9 L347.8 1066.9 L348.0 1065.9 L348.2 1064.9 L348.4 1064.0 L348.6 1063.4 L348.8 1062.9 L349.0 1062.7 L349.2 1062.7 L349.4 1062.9 L349.6 1063.4 L349.8 1064.0 L350.0 1064.9 L350.2 1065.9 L350.4 1066.9 L350.6 1067.9 L350.8 1068.8 L351.0 1069.6 L351.2 1070.2 L351.4 1070.7 L351.6 1071.1 L351.8 1071.3 L352.0 1071.5 L352.2 1071.6 L352.4 1071.6 L352.6 1071.7 L352.8 1071.7 L353.0 1071.7 L353.2 1071.7 L353.4 1071.7 L353.6 1071.7 L353.8 1071.7 L354.0 1071.7 L354.2 1071.7 L355.2 1071.7 L355.4 1071.7 L355.6 1071.7 L355.8 1071.6 L356.0 1071.5 L356.2 1071.2 L356.4 1070.6 L356.6 1069.4 L356.8 1067.1 L357.0 1063.2 L357.2 1057.0 L357.4 1047.8 L357.6 1035.5 L357.8 1020.3 L358.0 1003.2 L358.2 985.9 L358.4 970.3 L358.6 958.3 L358.8 951.2 L359.0 949.2 L359.2 951.2 L359.4 958.3 L359.6 970.3 L359.8 985.9 L360.0 1003.2 L360.2 1020.3 L360.4 1035.5 L360.6 1047.8 L360.8 1057.0 L361.0 1063.2 L361.2 1067.1 L361.4 1069.4 L361.6 1070.6 L361.8 1071.2 L362.0 1071.5 L362.2 1071.6 L362.4 1071.7 L362.6 1071.7 L362.8 1071.7 L363.0 1071.7 L363.2 1071.7 L364.2 1071.7 L365.2 1071.7 L366.2 1071.7 L367.2 1071.7 L368.2 1071.7 L369.2 1071.7 L370.2 1071.7 L371.2 1071.7 L372.2 1071.7 L373.2 1071.7 L374.2 1071.7 L375.2 1071.7 L376.2 1071.7 L377.2 1071.7 L378.2 1071.7 L379.2 1071.7 L380.2 1071.7 L381.2 1071.7 L382.2 1071.7 L383.2 1071.7 L384.2 1071.7 L385.2 1071.7 L386.2 1071.7 L387.2 1071.7 L388.2 1071.7 L389.2 1071.7 L390.2 1071.7 L391.2 1071.7 L392.2 1071.7 L393.2 1071.7 L394.2 1071.7 L395.2 1071.7 L396.2 1071.7 L397.2 1071.7 L398.2 1071.7 L399.2 1071.7 L400.2 1071.7 L401.2 1071.7 L402.2 1071.7 L403.2 1071.7 L404.2 1071.7 L405.2 1071.7 L406.2 1071.7 L407.2 1071.7 L408.2 1071.7 L409.2 1071.7 L410.2 1071.7 L411.2 1071.7 L412.2 1071.7 L413.2 1071.7 L414.2 1071.7 L415.2 1071.7 L416.2 1071.7 L417.2 1071.7 L418.2 1071.7 L419.2 1071.7 L420.2 1071.7 L421.2 1071.7 L422.2 1071.7 L423.2 1071.7 L424.2 1071.7 L425.2 1071.7 L426.2 1071.7 L427.2 1071.7 L428.2 1071.7 L429.2 1071.7 L430.2 1071.7 L431.2 1071.7 L432.2 1071.7 L433.2 1071.7 L434.2 1071.7 L435.2 1071.7 L436.2 1071.7 L437.2 1071.7 L438.2 1071.7 L439.2 1071.7 L440.2 1071.7 L441.2 1071.7 L442.2 1071.7 L443.2 1071.7 L444.2 1071.7 L445.2 1071.7 L446.2 1071.7 L447.2 1071.7 L448.2 1071.7 L449.2 1071.7 L450.2 1071.7 L451.2 1071.7 L452.2 1071.7 L453.2 1071.7 L454.2 1071.7 L455.2 1071.7 L456.2 1071.7 L457.2 1071.7 L458.2 1071.7 L459.2 1071.7 L460.2 1071.7 L461.2 1071.7 L462.2 1071.7 L463.2 1071.7 L464.2 1071.7 L465.2 1071.7 L466.2 1071.7 L467.2 1071.7 L468.2 1071.7 L469.2 1071.7 L470.2 1071.7 L471.2 1071.7 L472.2 1071.7 L473.2 1071.7 L474.2 1071.7 L475.2 1071.7 L476.2 1071.7 L477.2 1071.7 L478.2 1071.7 L479.2 1071.7 L480.2 1071.7 L481.2 1071.7 L482.2 1071.7 L483.2 1071.7 L484.2 1071.7 L485.2 1071.7 L486.2 1071.7 L487.2 1071.7 L488.2 1071.7 L489.2 1071.7 L490.2 1071.7 L491.2 1071.7 L492.2 1071.7 L493.2 1071.7 L494.2 1071.7 L495.2 1071.7 L496.2 1071.7 L497.2 1071.7 L498.2 1071.7 L499.2 1071.7 L500.2 1071.7 L501.2 1071.7 L502.2 1071.7 L503.2 1071.7 L504.2 1071.7 L505.2 1071.7 L506.2 1071.7 L507.2 1071.7 L508.2 1071.7 L509.2 1071.7 L510.2 1071.7 L511.2 1071.7 L512.2 1071.7 L513.2 1071.7 L514.2 1071.7 L515.2 1071.6 L516.2 1071.3 L517.2 1071.0 L518.2 1070.8 L518.4 1070.7 L518.6 1070.7 L518.8 1070.6 L519.0 1070.6 L519.2 1070.6 L519.4 1070.5 L519.6 1070.5 L519.8 1070.5 L520.0 1070.5 L520.2 1070.5 L520.4 1070.5 L520.6 1070.4 L520.8 1070.4 L521.0 1070.4 L521.2 1070.4 L521.4 1070.3 L521.6 1070.3 L521.8 1070.2 L522.0 1070.1 L522.2 1070.0 L522.4 1069.9 L522.6 1069.7 L522.8 1069.6 L523.0 1069.4 L523.2 1069.2 L523.4 1069.1 L523.6 1068.9 L523.8 1068.7 L524.0 1068.6 L524.2 1068.5 L524.4 1068.4 L524.6 1068.4 L524.8 1068.4 L525.0 1068.4 L525.2 1068.5 L525.4 1068.6 L525.6 1068.7 L525.8 1068.9 L526.0 1069.1 L526.2 1069.2 L526.4 1069.4 L526.6 1069.6 L526.8 1069.7 L527.0 1069.9 L527.2 1070.0 L527.4 1070.1 L527.6 1070.2 L527.8 1070.3 L528.0 1070.3 L528.2 1070.4 L528.4 1070.4 L528.6 1070.4 L528.8 1070.4 L529.0 1070.5 L529.2 1070.5 L529.4 1070.5 L529.6 1070.5 L529.8 1070.5 L530.0 1070.5 L530.2 1070.5 L530.4 1070.5 L530.6 1070.5 L530.8 1070.5 L531.0 1070.5 L531.2 1070.5 L531.4 1070.5 L531.6 1070.5 L531.8 1070.5 L532.0 1070.5 L532.2 1070.4 L532.4 1070.3 L532.6 1069.9 L532.8 1069.3 L533.0 1068.1 L533.2 1066.1 L533.4 1062.8 L533.6 1058.0 L533.8 1051.6 L534.0 1043.6 L534.2 1034.7 L534.4 1025.7 L534.6 1017.5 L534.8 1011.3 L535.0 1007.6 L535.2 1006.5 L535.4 1007.6 L535.6 1011.3 L535.8 1017.5 L536.0 1025.7 L536.2 1034.7 L536.4 1043.6 L536.6 1051.6 L536.8 1058.0 L537.0 1062.8 L537.2 1066.1 L537.4 1068.1 L537.6 1069.3 L537.8 1069.9 L538.0 1070.3 L538.2 1070.4 L538.4 1070.5 L538.6 1070.5 L538.8 1070.5 L539.0 1070.5 L539.2 1070.5 L540.2 1070.5 L541.2 1070.5 L542.2 1070.5 L543.2 1070.5 L544.2 1070.5 L544.4 1070.5 L544.6 1070.5 L544.8 1070.5 L545.0 1070.5 L545.2 1070.5 L545.4 1070.5 L545.6 1070.5 L545.8 1070.5 L546.0 1070.5 L546.2 1070.5 L546.4 1070.5 L546.6 1070.5 L546.8 1070.4 L547.0 1070.4 L547.2 1070.4 L547.4 1070.3 L547.6 1070.2 L547.8 1070.1 L548.0 1069.9 L548.2 1069.8 L548.4 1069.5 L548.6 1069.3 L548.8 1069.1 L549.0 1068.8 L549.2 1068.5 L549.4 1068.3 L549.6 1068.1 L549.8 1068.0 L550.0 1067.9 L550.2 1067.9 L550.4 1068.0 L550.6 1068.1 L550.8 1068.3 L551.0 1068.5 L551.2 1068.8 L551.4 1069.1 L551.6 1069.3 L551.8 1069.5 L552.0 1069.8 L552.2 1069.9 L552.4 1070.1 L552.6 1070.2 L552.8 1070.3 L553.0 1070.4 L553.2 1070.4 L553.4 1070.4 L553.6 1070.5 L553.8 1070.5 L554.0 1070.5 L554.2 1070.5 L554.4 1070.5 L554.6 1070.5 L554.8 1070.5 L555.0 1070.5 L555.2 1070.5 L555.4 1070.5 L555.6 1070.5 L555.8 1070.5 L556.0 1070.5 L556.2 1070.5 L556.4 1070.5 L556.6 1070.5 L556.8 1070.5 L557.0 1070.4 L557.2 1070.4 L557.4 1070.2 L557.6 1069.7 L557.8 1068.9 L558.0 1067.4 L558.2 1065.0 L558.4 1061.3 L558.6 1056.1 L558.8 1049.3 L559.0 1041.4 L559.2 1032.9 L559.4 1024.8 L559.6 1018.0 L559.8 1013.3 L560.0 1011.1 L560.2 1011.1 L560.4 1013.4 L560.6 1018.1 L560.8 1025.0 L561.0 1033.2 L561.2 1041.8 L561.4 1049.9 L561.6 1056.7 L561.8 1062.1 L562.0 1065.9 L562.2 1068.4 L562.4 1070.0 L562.6 1070.9 L562.8 1071.3 L563.0 1071.6 L563.2 1071.6 L563.4 1071.7 L563.6 1071.7 L563.8 1071.7 L564.0 1071.7 L564.2 1071.7 L565.2 1071.7 L566.2 1071.7 L567.2 1071.7 L568.2 1071.7 L569.2 1071.7 L570.2 1071.7 L571.2 1071.7 L572.2 1071.7 L573.2 1071.7 L574.2 1071.7 L575.2 1071.7 L576.2 1071.7 L577.2 1071.7 L578.2 1071.7 L579.2 1071.7 L580.2 1071.7 L581.2 1071.7 L582.2 1071.7 L583.2 1071.7 L584.2 1071.7 L585.2 1071.7 L586.2 1071.7 L587.2 1071.7 L588.2 1071.7 L589.2 1071.7 L590.2 1071.7 L591.2 1071.7 L592.2 1071.7 L593.2 1071.7 L594.2 1071.7 L595.2 1071.7 L596.2 1071.7 L597.2 1071.7 L598.2 1071.7 L599.2 1071.7 L600.2 1071.7 L601.2 1071.7 L602.2 1071.7 L603.2 1071.7 L604.2 1071.7 L605.2 1071.7 L606.2 1071.7 L607.2 1071.7 L608.2 1071.7 L609.2 1071.7 L610.2 1071.7 L611.2 1071.7 L612.2 1071.7 L613.2 1071.7 L614.2 1071.7 L615.2 1071.7 L616.2 1071.7 L617.2 1071.7 L618.2 1071.7 L619.2 1071.7 L620.2 1071.7 L621.2 1071.7 L622.2 1071.7 L623.2 1071.7 L624.2 1071.7 L625.2 1071.7 L626.2 1071.7 L627.2 1071.7 L628.2 1071.7 L629.2 1071.7 L630.2 1071.7 L631.2 1071.7 L632.2 1071.7 L633.2 1071.7 L634.2 1071.7 L635.2 1071.7 L636.2 1071.7 L637.2 1071.7 L638.2 1071.7 L639.2 1071.7 L640.2 1071.7 L641.2 1071.7 L642.2 1071.7 L643.2 1071.7 L644.2 1071.7 L645.2 1071.7 L646.2 1071.7 L647.2 1071.7 L648.2 1071.7 L649.2 1071.7 L650.2 1071.7 L651.2 1071.7 L652.2 1071.7 L653.2 1071.7 L654.2 1071.7 L655.2 1071.7 L656.2 1071.7 L657.2 1071.7 L658.2 1071.7 L659.2 1071.7 L660.2 1071.7 L661.2 1071.7 L662.2 1071.7 L663.2 1071.7 L664.2 1071.7 L665.2 1071.7 L666.2 1071.7 L667.2 1071.7 L668.2 1071.7 L669.2 1071.7 L670.2 1071.7 L671.2 1071.7 L672.2 1071.7 L673.2 1071.7 L674.2 1071.7 L675.2 1071.7 L676.2 1071.7 L677.2 1071.7 L678.2 1071.7 L679.2 1071.7 L680.2 1071.7 L681.2 1071.7 L682.2 1071.7 L683.2 1071.7 L684.2 1071.7 L685.2 1071.7 L686.2 1071.7 L687.2 1071.7 L688.2 1071.7 L689.2 1071.7 L690.2 1071.7 L690.4 1071.7 L690.6 1071.7 L690.8 1071.7 L691.0 1071.7 L691.2 1071.7 L691.4 1071.7 L691.6 1071.7 L691.8 1071.7 L692.0 1071.7 L692.2 1071.7 L692.4 1071.7 L692.6 1071.7 L692.8 1071.7 L693.0 1071.7 L693.2 1071.7 L693.4 1071.7 L693.6 1071.7 L693.8 1071.7 L694.0 1071.7 L694.2 1071.7 L694.4 1071.7 L694.6 1071.7 L694.8 1071.6 L695.0 1071.6 L695.2 1071.5 L695.4 1071.5 L695.6 1071.4 L695.8 1071.4 L696.0 1071.3 L696.2 1071.2 L696.4 1071.2 L696.6 1071.1 L696.8 1071.0 L697.0 1070.9 L697.2 1070.8 L697.4 1070.8 L697.6 1070.7 L697.8 1070.6 L698.0 1070.5 L698.2 1070.5 L698.4 1070.4 L698.6 1070.3 L698.8 1070.3 L699.0 1070.2 L699.2 1070.1 L699.4 1070.1 L699.6 1070.1 L699.8 1070.0 L700.0 1070.0 L700.2 1070.0 L700.4 1070.0 L700.6 1069.9 L700.8 1069.9 L701.0 1069.9 L701.2 1069.8 L701.4 1069.8 L701.6 1069.8 L701.8 1069.7 L702.0 1069.7 L702.2 1069.7 L702.4 1069.7 L702.6 1069.6 L702.8 1069.6 L703.0 1069.6 L703.2 1069.5 L703.4 1069.5 L703.6 1069.5 L703.8 1069.5 L704.0 1069.4 L704.2 1069.4 L704.4 1069.4 L704.6 1069.4 L704.8 1069.4 L705.0 1069.4 L705.2 1069.4 L705.4 1069.4 L705.6 1069.4 L705.8 1069.4 L706.0 1069.4 L706.2 1069.5 L706.4 1069.5 L706.6 1069.5 L706.8 1069.5 L707.0 1069.6 L707.2 1069.6 L707.4 1069.6 L707.6 1069.7 L707.8 1069.7 L708.0 1069.7 L708.2 1069.7 L708.4 1069.7 L708.6 1069.7 L708.8 1069.6 L709.0 1069.3 L709.2 1068.6 L709.4 1067.4 L709.6 1065.2 L709.8 1061.6 L710.0 1056.5 L710.2 1049.5 L710.4 1041.0 L710.6 1031.4 L710.8 1021.6 L711.0 1012.8 L711.2 1006.1 L711.4 1002.1 L711.6 1000.9 L711.8 1002.1 L712.0 1006.1 L712.2 1012.9 L712.4 1021.7 L712.6 1031.5 L712.8 1041.1 L713.0 1049.7 L713.2 1056.7 L713.4 1061.9 L713.6 1065.4 L713.8 1067.6 L714.0 1068.9 L714.2 1069.6 L714.4 1069.9 L714.6 1070.1 L714.8 1070.2 L715.0 1070.2 L715.2 1070.2 L715.4 1070.2 L715.6 1070.2 L715.8 1070.2 L716.0 1070.1 L716.2 1070.1 L716.4 1070.1 L716.6 1070.0 L716.8 1070.0 L717.0 1069.9 L717.2 1069.8 L717.4 1069.8 L717.6 1069.6 L717.8 1069.5 L718.0 1069.4 L718.2 1069.3 L718.4 1069.1 L718.6 1069.0 L718.8 1068.8 L719.0 1068.7 L719.2 1068.6 L719.4 1068.5 L719.6 1068.4 L719.8 1068.4 L720.0 1068.4 L720.2 1068.4 L720.4 1068.5 L720.6 1068.6 L720.8 1068.7 L721.0 1068.8 L721.2 1069.0 L721.4 1069.1 L721.6 1069.3 L721.8 1069.4 L722.0 1069.5 L722.2 1069.6 L722.4 1069.8 L722.6 1069.8 L722.8 1069.9 L723.0 1070.0 L723.2 1070.0 L723.4 1070.1 L723.6 1070.1 L723.8 1070.1 L724.0 1070.2 L724.2 1070.2 L724.4 1070.2 L724.6 1070.2 L724.8 1070.2 L725.0 1070.2 L725.2 1070.2 L725.4 1070.2 L725.6 1070.2 L725.8 1070.2 L726.0 1070.2 L726.2 1070.2 L726.4 1070.2 L726.6 1070.2 L726.8 1070.2 L727.0 1070.2 L727.2 1070.2 L727.4 1070.2 L727.6 1070.2 L727.8 1070.2 L728.0 1070.1 L728.2 1070.0 L728.4 1069.7 L728.6 1069.1 L728.8 1067.9 L729.0 1065.9 L729.2 1062.8 L729.4 1058.2 L729.6 1052.0 L729.8 1044.4 L730.0 1035.8 L730.2 1027.1 L730.4 1019.3 L730.6 1013.3 L730.8 1009.7 L731.0 1008.7 L731.2 1009.7 L731.4 1013.4 L731.6 1019.4 L731.8 1027.4 L732.0 1036.2 L732.2 1044.9 L732.4 1052.7 L732.6 1059.0 L732.8 1063.8 L733.0 1067.0 L733.2 1069.2 L733.4 1070.4 L733.6 1071.1 L733.8 1071.5 L734.0 1071.6 L734.2 1071.7 L734.4 1071.7 L734.6 1071.7 L734.8 1071.7 L735.0 1071.7 L736.0 1071.7 L737.0 1071.7 L738.0 1071.7 L739.0 1071.7 L740.0 1071.7 L741.0 1071.7 L742.0 1071.7 L743.0 1071.7 L744.0 1071.7 L745.0 1071.7 L746.0 1071.7 L747.0 1071.7 L748.0 1071.7 L749.0 1071.7 L750.0 1071.7 L751.0 1071.7 L752.0 1071.7 L753.0 1071.7 L754.0 1071.7 L755.0 1071.7 L756.0 1071.7 L757.0 1071.7 L758.0 1071.7 L759.0 1071.7 L760.0 1071.7 L761.0 1071.7 L762.0 1071.7 L763.0 1071.7 L764.0 1071.7 L765.0 1071.7 L766.0 1071.7 L767.0 1071.7 L768.0 1071.7 L769.0 1071.7 L770.0 1071.7 L771.0 1071.7 L772.0 1071.7 L773.0 1071.7 L774.0 1071.7 L775.0 1071.7 L776.0 1071.7 L777.0 1071.7 L778.0 1071.7 L779.0 1071.7 L780.0 1071.7 L781.0 1071.7 L782.0 1071.7 L783.0 1071.7 L784.0 1071.7 L785.0 1071.7 L786.0 1071.7 L787.0 1071.7 L788.0 1071.7 L789.0 1071.7 L790.0 1071.7 L791.0 1071.7 L792.0 1071.7 L793.0 1071.7 L794.0 1071.7 L795.0 1071.7 L796.0 1071.7 L797.0 1071.7 L798.0 1071.7 L799.0 1071.7 L800.0 1071.7 L801.0 1071.7 L802.0 1071.7 L803.0 1071.7 L804.0 1071.7 L805.0 1071.7 L806.0 1071.7 L807.0 1071.7 L808.0 1071.7 L809.0 1071.7 L810.0 1071.7 L811.0 1071.7 L812.0 1071.7 L813.0 1071.7 L814.0 1071.7 L815.0 1071.7 L816.0 1071.7 L817.0 1071.7 L818.0 1071.7 L819.0 1071.7 L820.0 1071.7 L821.0 1071.7 L822.0 1071.7 L823.0 1071.7 L824.0 1071.7 L825.0 1071.7 L826.0 1071.7 L827.0 1071.7 L828.0 1071.7 L829.0 1071.7 L830.0 1071.7 L831.0 1071.7 L832.0 1071.7 L833.0 1071.7 L834.0 1071.7 L835.0 1071.7 L836.0 1071.7 L837.0 1071.7 L838.0 1071.7 L839.0 1071.7 L840.0 1071.7 L841.0 1071.7 L842.0 1071.7 L843.0 1071.7 L844.0 1071.7 L845.0 1071.7 L846.0 1071.7 L847.0 1071.7 L848.0 1071.7 L849.0 1071.7 L850.0 1071.7 L851.0 1071.7 L852.0 1071.7 L853.0 1071.7 L854.0 1071.7 L855.0 1071.7 L856.0 1071.7 L857.0 1071.7 L858.0 1071.7 L859.0 1071.7 L860.0 1071.7 L861.0 1071.7 L862.0 1071.7 L863.0 1071.7 L864.0 1071.7 L865.0 1071.7 L866.0 1071.7 L867.0 1071.7 L868.0 1071.7 L869.0 1071.7 L870.0 1071.7 L871.0 1071.7 L872.0 1071.7 L873.0 1071.7 L874.0 1071.7 L875.0 1071.7 L876.0 1071.7 L877.0 1071.7 L878.0 1071.7 L879.0 1071.7 L880.0 1071.7 L881.0 1071.7 L882.0 1071.7 L883.0 1071.7 L884.0 1071.7 L885.0 1071.7 L886.0 1071.7 L887.0 1071.7 L888.0 1071.7 L889.0 1071.7 L890.0 1071.7 L891.0 1071.7 L892.0 1071.7 L893.0 1071.7 L894.0 1071.7 L895.0 1071.7 L896.0 1071.7 L897.0 1071.7 L898.0 1071.7 L899.0 1071.7 L900.0 1071.7 L901.0 1071.7 L902.0 1071.7 L903.0 1071.7 L904.0 1071.7 L905.0 1071.7 L906.0 1071.7 L907.0 1071.7 L908.0 1071.7 L909.0 1071.7 L910.0 1071.7 L911.0 1071.7 L912.0 1071.7 L913.0 1071.7 L914.0 1071.7 L915.0 1071.7 L916.0 1071.7 L917.0 1071.7 L918.0 1071.7 L919.0 1071.7 L920.0 1071.7 L921.0 1071.7 L922.0 1071.7 L923.0 1071.7 L924.0 1071.7 L925.0 1071.7 L926.0 1071.7 L927.0 1071.7 L928.0 1071.7 L929.0 1071.7 L930.0 1071.7 L931.0 1071.7 L932.0 1071.7 L933.0 1071.7 L934.0 1071.7 L935.0 1071.7 L936.0 1071.7 L937.0 1071.7 L938.0 1071.7 L939.0 1071.7 L940.0 1071.7 L941.0 1071.7 L942.0 1071.7 L943.0 1071.7 L944.0 1071.7 L945.0 1071.7 L946.0 1071.7 L947.0 1071.7 L948.0 1071.7 L949.0 1071.7 L950.0 1071.7 L951.0 1071.7 L952.0 1071.7 L953.0 1071.7 L954.0 1071.7 L955.0 1071.7 L956.0 1071.7 L957.0 1071.7 L958.0 1071.7 L959.0 1071.7 L960.0 1071.7 L961.0 1071.7 L962.0 1071.7 L963.0 1071.7 L964.0 1071.7 L965.0 1071.7 L966.0 1071.7 L967.0 1071.7 L968.0 1071.7 L969.0 1071.7 L970.0 1071.7 L971.0 1071.7 L972.0 1071.7 L973.0 1071.7 L974.0 1071.7 L975.0 1071.7 L976.0 1071.7 L977.0 1071.7 L978.0 1071.7 L979.0 1071.7 L980.0 1071.7 L981.0 1071.7 L982.0 1071.7 L983.0 1071.7 L984.0 1071.7 L985.0 1071.7 L986.0 1071.7 L987.0 1071.7 L988.0 1071.7 L989.0 1071.7 L990.0 1071.7 L991.0 1071.7 L992.0 1071.7 L993.0 1071.7 L994.0 1071.7 L995.0 1071.7 L996.0 1071.7 L997.0 1071.7 L998.0 1071.7 L999.0 1071.7 L1000.0 1071.7 L1001.0 1071.7 L1002.0 1071.7 L1003.0 1071.7 L1004.0 1071.7 L1005.0 1071.7 L1006.0 1071.7 L1007.0 1071.7 L1008.0 1071.7 L1009.0 1071.7 L1010.0 1071.7 L1011.0 1071.7 L1012.0 1071.7 L1013.0 1071.7 L1014.0 1071.7 L1015.0 1071.7 L1016.0 1071.7 L1017.0 1071.7 L1018.0 1071.7 L1019.0 1071.7 L1020.0 1071.7 L1021.0 1071.7 L1022.0 1071.7 L1023.0 1071.7 L1024.0 1071.7 L1025.0 1071.7 L1026.0 1071.7 L1027.0 1071.7 L1028.0 1071.7 L1029.0 1071.7 L1030.0 1071.7 L1031.0 1071.7 L1032.0 1071.7 L1033.0 1071.7 L1034.0 1071.7 L1035.0 1071.7 L1036.0 1071.7 L1037.0 1071.7 L1038.0 1071.7 L1039.0 1071.7 L1040.0 1071.7 L1041.0 1071.7 L1042.0 1071.7 L1043.0 1071.7 L1044.0 1071.7 L1045.0 1071.7 L1045.2 1071.7 L1045.4 1071.7 L1045.6 1071.7 L1045.8 1071.7 L1046.0 1071.7 L1046.2 1071.7 L1046.4 1071.7 L1046.6 1071.7 L1046.8 1071.7 L1047.0 1071.7 L1047.2 1071.7 L1047.4 1071.7 L1047.6 1071.7 L1047.8 1071.7 L1048.0 1071.7 L1048.2 1071.7 L1048.4 1071.7 L1048.6 1071.7 L1048.8 1071.7 L1049.0 1071.7 L1049.2 1071.7 L1049.4 1071.7 L1049.6 1071.7 L1049.8 1071.7 L1050.0 1071.7 L1050.2 1071.7 L1050.4 1071.7 L1050.6 1071.7 L1050.8 1071.7 L1051.0 1071.7 L1051.2 1071.7 L1051.4 1071.7 L1051.6 1071.7 L1051.8 1071.7 L1052.0 1071.7 L1052.2 1071.7 L1052.4 1071.6 L1052.6 1071.6 L1052.8 1071.6 L1053.0 1071.6 L1053.2 1071.6 L1053.4 1071.6 L1053.6 1071.6 L1053.8 1071.5 L1054.0 1071.5 L1054.2 1071.5 L1054.4 1071.5 L1054.6 1071.4 L1054.8 1071.4 L1055.0 1071.3 L1055.2 1071.2 L1055.4 1071.2 L1055.6 1071.1 L1055.8 1071.0 L1056.0 1070.9 L1056.2 1070.8 L1056.4 1070.7 L1056.6 1070.6 L1056.8 1070.5 L1057.0 1070.4 L1057.2 1070.3 L1057.4 1070.2 L1057.6 1070.1 L1057.8 1070.0 L1058.0 1069.9 L1058.2 1069.8 L1058.4 1069.7 L1058.6 1069.7 L1058.8 1069.6 L1059.0 1069.5 L1059.2 1069.5 L1059.4 1069.5 L1059.6 1069.4 L1059.8 1069.4 L1060.0 1069.4 L1060.2 1069.4 L1060.4 1069.4 L1060.6 1069.4 L1060.8 1069.4 L1061.0 1069.5 L1061.2 1069.5 L1061.4 1069.5 L1061.6 1069.6 L1061.8 1069.6 L1062.0 1069.7 L1062.2 1069.7 L1062.4 1069.8 L1062.6 1069.8 L1062.8 1069.9 L1063.0 1069.9 L1063.2 1070.0 L1063.4 1070.0 L1063.6 1070.0 L1063.8 1070.0 L1064.0 1070.0 L1064.2 1069.8 L1064.4 1069.3 L1064.6 1068.3 L1064.8 1066.5 L1065.0 1063.5 L1065.2 1058.8 L1065.4 1052.2 L1065.6 1043.8 L1065.8 1033.8 L1066.0 1023.2 L1066.2 1012.9 L1066.4 1004.4 L1066.6 998.5 L1066.8 995.8 L1067.0 995.8 L1067.2 998.6 L1067.4 1004.5 L1067.6 1013.0 L1067.8 1023.3 L1068.0 1034.0 L1068.2 1044.0 L1068.4 1052.5 L1068.6 1059.1 L1068.8 1063.8 L1069.0 1066.8 L1069.2 1068.7 L1069.4 1069.7 L1069.6 1070.3 L1069.8 1070.5 L1070.0 1070.6 L1070.2 1070.7 L1070.4 1070.7 L1070.6 1070.7 L1070.8 1070.7 L1071.0 1070.7 L1071.2 1070.7 L1071.4 1070.7 L1071.6 1070.7 L1071.8 1070.7 L1072.0 1070.7 L1072.2 1070.7 L1072.4 1070.7 L1072.6 1070.7 L1072.8 1070.7 L1073.0 1070.7 L1073.2 1070.7 L1073.4 1070.7 L1073.6 1070.7 L1073.8 1070.7 L1074.0 1070.7 L1074.2 1070.7 L1074.4 1070.7 L1074.6 1070.7 L1074.8 1070.7 L1075.0 1070.7 L1076.0 1070.7 L1077.0 1070.7 L1078.0 1070.7 L1079.0 1070.7 L1080.0 1070.7 L1081.0 1070.7 L1082.0 1070.7 L1083.0 1070.7 L1083.2 1070.7 L1083.4 1070.7 L1083.6 1070.7 L1083.8 1070.7 L1084.0 1070.7 L1084.2 1070.7 L1084.4 1070.7 L1084.6 1070.7 L1084.8 1070.7 L1085.0 1070.7 L1085.2 1070.7 L1085.4 1070.7 L1085.6 1070.6 L1085.8 1070.6 L1086.0 1070.6 L1086.2 1070.5 L1086.4 1070.5 L1086.6 1070.4 L1086.8 1070.3 L1087.0 1070.2 L1087.2 1070.0 L1087.4 1069.8 L1087.6 1069.6 L1087.8 1069.3 L1088.0 1069.1 L1088.2 1068.8 L1088.4 1068.4 L1088.6 1068.1 L1088.8 1067.8 L1089.0 1067.5 L1089.2 1067.2 L1089.4 1067.0 L1089.6 1066.8 L1089.8 1066.7 L1090.0 1066.7 L1090.2 1066.7 L1090.4 1066.8 L1090.6 1067.0 L1090.8 1067.2 L1091.0 1067.5 L1091.2 1067.8 L1091.4 1068.1 L1091.6 1068.4 L1091.8 1068.8 L1092.0 1069.1 L1092.2 1069.3 L1092.4 1069.6 L1092.6 1069.8 L1092.8 1070.0 L1093.0 1070.2 L1093.2 1070.3 L1093.4 1070.4 L1093.6 1070.5 L1093.8 1070.5 L1094.0 1070.6 L1094.2 1070.6 L1094.4 1070.6 L1094.6 1070.7 L1094.8 1070.6 L1095.0 1070.6 L1095.2 1070.4 L1095.4 1070.1 L1095.6 1069.5 L1095.8 1068.2 L1096.0 1066.1 L1096.2 1062.6 L1096.4 1057.6 L1096.6 1050.9 L1096.8 1042.6 L1097.0 1033.2 L1097.2 1023.7 L1097.4 1015.2 L1097.6 1008.7 L1097.8 1004.8 L1098.0 1003.7 L1098.2 1004.8 L1098.4 1008.7 L1098.6 1015.3 L1098.8 1023.9 L1099.0 1033.5 L1099.2 1042.9 L1099.4 1051.3 L1099.6 1058.2 L1099.8 1063.3 L1100.0 1066.8 L1100.2 1069.0 L1100.4 1070.4 L1100.6 1071.1 L1100.8 1071.4 L1101.0 1071.6 L1101.2 1071.7 L1101.4 1071.7 L1101.6 1071.7 L1101.8 1071.7 L1102.0 1071.7 L1103.0 1071.7 L1104.0 1071.7 L1105.0 1071.7 L1106.0 1071.7 L1107.0 1071.7 L1108.0 1071.7 L1109.0 1071.7 L1110.0 1071.7 L1111.0 1071.7 L1112.0 1071.7 L1113.0 1071.7 L1114.0 1071.7 L1115.0 1071.7 L1116.0 1071.7 L1117.0 1071.7 L1118.0 1071.7 L1119.0 1071.7 L1120.0 1071.7 L1121.0 1071.7 L1122.0 1071.7 L1123.0 1071.7 L1124.0 1071.7 L1125.0 1071.7 L1126.0 1071.7 L1127.0 1071.7 L1128.0 1071.7 L1129.0 1071.7 L1130.0 1071.7 L1131.0 1071.7 L1132.0 1071.7 L1133.0 1071.7 L1134.0 1071.7 L1135.0 1071.7 L1136.0 1071.7 L1137.0 1071.7 L1138.0 1071.7 L1139.0 1071.7 L1140.0 1071.7 L1141.0 1071.7 L1142.0 1071.7 L1143.0 1071.7 L1144.0 1071.7 L1145.0 1071.7 L1146.0 1071.7 L1147.0 1071.7 L1148.0 1071.7 L1149.0 1071.7 L1150.0 1071.7 L1151.0 1071.7 L1152.0 1071.7 L1153.0 1071.7 L1154.0 1071.7 L1155.0 1071.7 L1156.0 1071.7 L1157.0 1071.7 L1158.0 1071.7 L1159.0 1071.7 L1160.0 1071.7 L1161.0 1071.7 L1162.0 1071.7 L1163.0 1071.7 L1164.0 1071.7 L1165.0 1071.7 L1166.0 1071.7 L1167.0 1071.7 L1168.0 1071.7 L1169.0 1071.7 L1170.0 1071.7 L1171.0 1071.7 L1172.0 1071.7 L1173.0 1071.7 L1174.0 1071.7 L1175.0 1071.7 L1176.0 1071.7 L1177.0 1071.7 L1178.0 1071.7 L1179.0 1071.7 L1180.0 1071.7 L1181.0 1071.7 L1182.0 1071.7 L1183.0 1071.7 L1184.0 1071.7 L1185.0 1071.7 L1186.0 1071.7 L1187.0 1071.7 L1188.0 1071.7 L1189.0 1071.7 L1190.0 1071.7 L1191.0 1071.7 L1192.0 1071.7 L1193.0 1071.7 L1194.0 1071.7 L1195.0 1071.7 L1196.0 1071.7 L1197.0 1071.7 L1198.0 1071.7 L1199.0 1071.7 L1200.0 1071.7 L1201.0 1071.7 L1202.0 1071.7 L1203.0 1071.7 L1204.0 1071.7 L1205.0 1071.7 L1206.0 1071.7 L1207.0 1071.7 L1208.0 1071.7 L1209.0 1071.7 L1210.0 1071.7 L1211.0 1071.7 L1212.0 1071.7 L1213.0 1071.7 L1214.0 1071.7 L1215.0 1071.7 L1216.0 1071.7" stroke="#ec1c24" stroke-width="1.8" fill="none" stroke-linejoin="round"/><rect x="133.00" y="915.75" width="1085.80" height="158.80" fill="none" stroke="#b0b0b0" stroke-width="3.5"/><path d="M167.75 908.85V922.65M268.00 908.85V922.65M367.50 908.85V922.65M467.50 908.85V922.65M567.50 908.85V922.65M667.50 908.85V922.65M768.00 908.85V922.65M866.75 908.85V922.65M966.50 908.85V922.65M1066.00 908.85V922.65M1165.80 908.85V922.65M126.1 942.51H140.1M126.1 969.55H140.1M126.1 994.55H140.1M126.1 1019.45H140.1M126.1 1046.55H140.1" stroke="#b0b0b0" stroke-width="3" fill="none"/></g>
</svg>
<script>(function(){var E=[17.31, 106.73, 106.73, 91.92, 121.55, 106.73, 90.08, 31.59, 47.39, 47.39, 47.39, 47.39, 47.39, 69.48, 47.39, 47.39, 15.8, 106.73, 91.92, 106.73, 96.47, 92.3, 31.59, 47.39, 47.39, 47.39, 47.39, 47.39, 69.48, 47.39, 47.39, 15.8, 63.84, 52.36, 91.92, 91.92, 91.92, 66.5, 92, 31.59, 47.39, 47.39, 47.39, 47.39, 47.39, 69.48, 47.39, 47.39, 15.8, 106.73, 106.73, 106.73, 49.45, 121.55, 31.59, 47.39, 47.39, 47.39, 47.39, 47.39, 69.48, 47.39, 47.39, 15.8];var ts=document.querySelectorAll("svg text");for(var i=0;i<ts.length&&i<E.length;i++){var t=ts[i];var n=t.getComputedTextLength();if(Math.abs(n-E[i])>1.2){t.setAttribute("lengthAdjust","spacingAndGlyphs");}}})();</script>
</body></html>
